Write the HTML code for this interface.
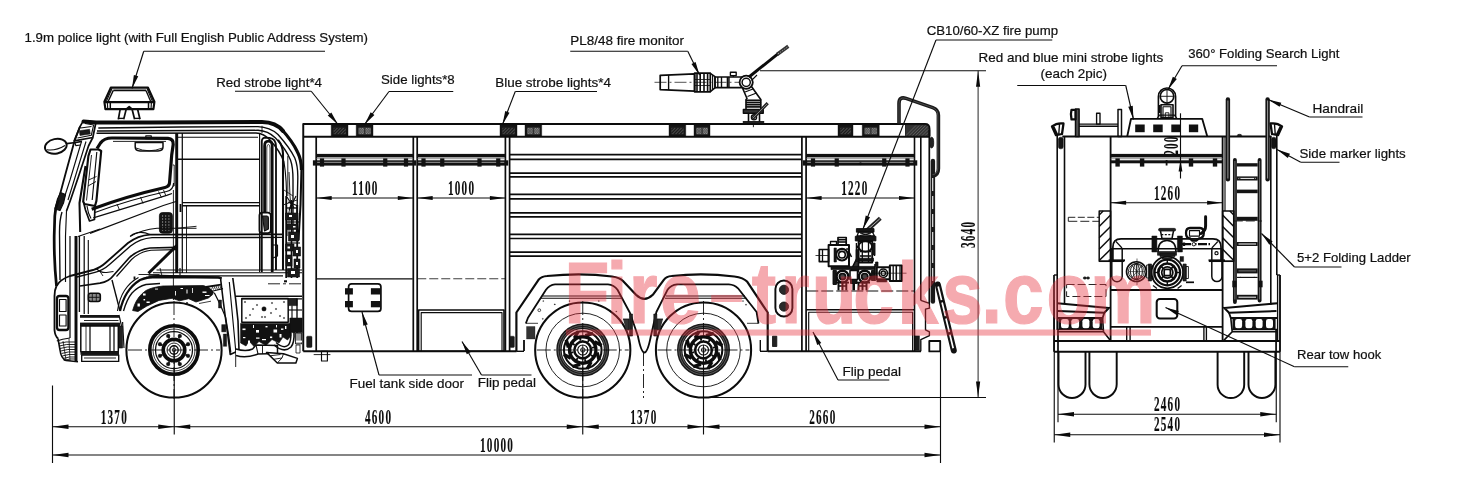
<!DOCTYPE html>
<html lang="en">
<head>
<meta charset="utf-8">
<title>Fire truck drawing</title>
<style>
html,body{margin:0;padding:0;background:#fff;}
body{width:1457px;height:485px;overflow:hidden;}
svg{display:block;}
svg *{vector-effect:none;}
.g{stroke:#0c0c0c;fill:none;stroke-linecap:butt;stroke-linejoin:round;}
.lb{font-family:"Liberation Sans",sans-serif;fill:#111;stroke:#111;stroke-width:.22px;}
.dm{font-family:"Liberation Serif",serif;font-weight:bold;fill:#0c0c0c;stroke:#0c0c0c;stroke-width:.15px;}
.wm{font-family:"Liberation Sans",sans-serif;font-weight:bold;fill:#e8323f;stroke:#e8323f;stroke-width:1.2px;stroke-linejoin:miter;}
</style>
</head>
<body>
<svg width="1457" height="485" viewBox="0 0 1457 485">
<rect x="0" y="0" width="1457" height="485" fill="#fff" stroke="none"/>
<g class="g" style="filter:grayscale(1)">
<path d="M83.5,121.4 L96,122.6 L150,122.4 L262,122 Q276,122.2 283,131" stroke-width="4.0" fill="none" stroke-linecap="round"/>
<path d="M281,128.5 Q293,142 297.5,152 Q301.5,160 301.5,170" stroke-width="3.19" fill="none" />
<path d="M301.5,168 L300.5,205 L298.5,240" stroke-width="2.05" fill="none" />
<path d="M98.3,128 L180,127 L258,126.6 Q270,127 278,134.5 Q290,148 294.8,158 Q298,166 297.8,178 L296.5,236" stroke-width="1.37" fill="none" />
<path d="M97,131 L258,130.3 Q268,130.8 275.5,138 Q286,149 290.5,160 Q293,167 293,180 L293,236" stroke-width="1.37" fill="none" />
<path d="M96.5,133.2 L256,133 Q264,133.4 270,140 Q280,151 284,162" stroke-width="1.48" fill="none" />
<path d="M262,125.8 L262,133" stroke-width="0.9" fill="none" />
<polygon points="83.3,120.8 95.8,123 92.8,137.5 74.2,140.8 80,126.7" stroke-width="1.71" fill="none" />
<polyline points="85,123.5 93.6,125 91.3,135.3 77.5,138" stroke-width="1.14" fill="none" />
<rect x="79.6" y="130" width="10.4" height="4.8" rx="0" stroke-width="0.5" fill="#1a1a1a" transform="rotate(-8 84.8 132.4)"/>
<line x1="80.5" y1="128" x2="91.5" y2="126.5" stroke-width="1.14" />
<ellipse cx="55.8" cy="146.3" rx="11" ry="7.3" stroke-width="1.94" fill="none" transform="rotate(-12 55.8 146.3)"/>
<path d="M47,149.8 Q56,151 65,145.5" stroke-width="1.14" fill="none" />
<polyline points="66.5,143.6 75.8,142.5 82,141.3" stroke-width="1.71" fill="none" />
<polyline points="75,142.6 75.8,145.6 80.5,145" stroke-width="1.14" fill="none" />
<polyline points="80,126.7 74.5,141 66,172 58.5,200" stroke-width="1.82" fill="none" />
<polyline points="92.8,137.5 88.5,146 78,178 70.5,200 66.5,211" stroke-width="1.71" fill="none" />
<polyline points="86,141.5 73,184 68,200" stroke-width="1.14" fill="none" />
<polyline points="81.5,141.5 70,180 63.5,200" stroke-width="1.14" fill="none" />
<polygon points="60.5,192.5 65.5,194.5 63.5,203 60,210.5 55,209 57.5,199" stroke-width="1.14" fill="#1a1a1a" />
<path d="M58.5,200 Q55,208 54.8,216 L54.2,236 Q54,262 56.5,286" stroke-width="2.74" fill="none" />
<path d="M62,212 Q59.5,220 59.5,232 L60,280" stroke-width="1.37" fill="none" />
<path d="M66.5,211 L65.5,236 L65.5,282" stroke-width="1.14" fill="none" />
<path d="M91.7,209.2 Q127.5,196 165,187.5 Q169.5,186.5 169.6,182 L171.7,155 L173.2,144.5 Q173.6,138.8 168,138.4 L112,138 Q104,138 100.5,143 L97,148.5" stroke-width="3.19" fill="none" />
<path d="M95,212.5 Q130,199.5 166.5,191.5 Q173.5,190 173.6,183" stroke-width="1.25" fill="none" />
<polygon points="98.6,149.5 101.2,151 96.4,201 95,206 84.4,204 83.2,201.5 88.4,156 90.5,149.5" stroke-width="2.17" fill="none" />
<polyline points="85.5,166 79.5,203 80.2,232" stroke-width="2.05" fill="none" />
<polyline points="96.8,152 92.2,200" stroke-width="1.14" fill="none" />
<polyline points="91.5,155 86.5,200.5" stroke-width="0.9" fill="none" />
<polyline points="84,204 85.5,210 89.5,221 94.5,219.5 95,206" stroke-width="1.71" fill="none" />
<polyline points="87,206 88.5,213 91,218.5" stroke-width="1.14" fill="none" />
<polyline points="88,186 96,181.5" stroke-width="0.9" fill="none" />
<polyline points="88.5,180 96.5,176.5" stroke-width="0.9" fill="none" />
<path d="M135.2,142.6 L163,142.6 L163,147 Q163,150.8 158,151 L140,151 Q135.2,150.8 135.2,147 Z" stroke-width="1.48" fill="none" />
<path d="M136,148 Q149,153.5 162.5,148" stroke-width="0.9" fill="none" />
<rect x="145.8" y="135.9" width="5.5" height="2.8" rx="0" stroke-width="1.14" fill="none" />
<line x1="113" y1="141.4" x2="166" y2="141.4" stroke-width="0.9" />
<polyline points="93.3,217.8 166.7,195.4 172,193.5" stroke-width="1.25" fill="none" />
<polyline points="90,233.3 163.3,205.5 176,201.5" stroke-width="1.25" fill="none" />
<polyline points="78,236.5 100,229" stroke-width="1.14" fill="none" />
<polyline points="117,204 119.5,210" stroke-width="0.9" fill="none" />
<polyline points="140.5,197 143,203.5" stroke-width="0.9" fill="none" />
<polyline points="158.5,191.5 161.5,197.5" stroke-width="0.9" fill="none" />
<polyline points="163.5,190 166,196" stroke-width="0.9" fill="none" />
<polyline points="172.8,165 174.2,165 174.2,186 172.6,186" stroke-width="0.9" fill="none" />
<line x1="176.7" y1="133" x2="176.7" y2="273" stroke-width="2.96" />
<line x1="182.3" y1="133" x2="182.3" y2="273" stroke-width="1.25" />
<line x1="186.5" y1="206" x2="186.5" y2="273" stroke-width="0.9" />
<line x1="173.4" y1="190" x2="173.4" y2="300" stroke-width="0.9" />
<line x1="176.7" y1="159.2" x2="260" y2="159.2" stroke-width="1.37" />
<line x1="182.3" y1="202.6" x2="260" y2="202.6" stroke-width="1.37" />
<line x1="182.3" y1="205.8" x2="260" y2="205.8" stroke-width="1.37" />
<line x1="176.7" y1="137.3" x2="258" y2="137.3" stroke-width="1.14" />
<line x1="259.6" y1="133" x2="259.6" y2="272" stroke-width="1.14" />
<path d="M261.8,272 L261.8,141.5 Q261.8,137.6 265.5,137.6 L269.5,137.8 Q276,138.6 276,146.5 L276,270" stroke-width="1.82" fill="none" />
<path d="M264.6,212 L264.6,146 Q264.6,141.2 268.4,141.2 Q272.2,141.2 272.2,146 L272.2,272" stroke-width="2.74" fill="none" />
<path d="M266.8,212 L266.8,148 Q266.8,144.5 268.4,144.5 Q270,144.5 270,148 L270,212" stroke-width="0.8" fill="none" />
<path d="M278,140 Q283,146 283,154 L283,270" stroke-width="2.05" fill="none" />
<line x1="287.8" y1="156" x2="287.8" y2="196" stroke-width="0.9" />
<path d="M284,162 Q287,180 286.5,205 L287,236" stroke-width="1.14" fill="none" />
<path d="M289,172 L290,196 Q292,205 289,212 L289,232" stroke-width="0.9" fill="none" />
<line x1="283" y1="205" x2="297" y2="200" stroke-width="0.9" />
<line x1="284" y1="190" x2="293" y2="196" stroke-width="0.8" />
<rect x="159.4" y="212.6" width="13" height="20.6" rx="3" stroke-width="0.8" fill="#151515" />
<line x1="162.6" y1="215" x2="162.6" y2="231" stroke-width="0.7" stroke="#999" stroke-dasharray="2 1"/>
<line x1="165.7" y1="215" x2="165.7" y2="231" stroke-width="0.7" stroke="#999" stroke-dasharray="2 1"/>
<line x1="168.9" y1="215" x2="168.9" y2="231" stroke-width="0.7" stroke="#999" stroke-dasharray="2 1"/>
<rect x="259.4" y="212.6" width="11.4" height="20.6" rx="3" stroke-width="1.71" fill="none" />
<path d="M262.5,216 L267,216 Q268.4,216 268.4,218 L268.4,229 L264.5,231 Z" stroke-width="1.14" fill="#333" />
<line x1="180.5" y1="204" x2="180.5" y2="212" stroke-width="1.82" />
<path d="M283,234.4 L150,234.6 Q138,235.5 128,243 L106,262.5 Q100,268 93,270 L70,276 Q60,279.5 56.5,286" stroke-width="1.82" fill="none" />
<path d="M283,237.4 L152,237.6 Q140,238.5 130.5,246 L109.5,264.5 Q103,270.3 95,272.3 L75,277.5" stroke-width="1.37" fill="none" />
<path d="M150,234.6 Q139,229.5 130.5,236" stroke-width="1.14" fill="none" />
<path d="M196.5,228.3 L157,228.3 Q142,229.5 130,236.5" stroke-width="1.14" fill="none" />
<line x1="176" y1="228.3" x2="196.5" y2="226.3" stroke-width="0.9" />
<path d="M176,247.4 L150,248 Q138,249.5 129,258 L113,276 Q109,281.5 100,283.2 L80,286" stroke-width="1.71" fill="none" />
<path d="M176,249.6 L151,250.2 Q140,251.5 131.5,259.5 L116.5,276.5" stroke-width="1.14" fill="none" />
<path d="M96,268.5 Q101,273 106.5,272.5 L113.5,271.5" stroke-width="1.14" fill="none" />
<line x1="100" y1="271.5" x2="103" y2="276" stroke-width="0.9" />
<line x1="176.7" y1="245.6" x2="148.5" y2="273.3" stroke-width="2.96" />
<line x1="112" y1="280" x2="120" y2="311" stroke-width="1.37" />
<line x1="156.5" y1="270" x2="302" y2="270" stroke-width="1.08" />
<line x1="153" y1="272.8" x2="302" y2="272.8" stroke-width="1.08" />
<line x1="148.5" y1="275.8" x2="283" y2="275.8" stroke-width="1.25" />
<line x1="146" y1="277.6" x2="220" y2="277.6" stroke-width="1.82" />
<line x1="180" y1="268" x2="180" y2="275" stroke-width="1.14" />
<line x1="160" y1="268" x2="162" y2="276" stroke-width="0.9" />
<line x1="134.5" y1="276.5" x2="134.5" y2="279.5" stroke-width="1.82" />
<line x1="138.5" y1="274.5" x2="159.5" y2="274.5" stroke-width="0.9" />
<line x1="272.7" y1="236" x2="272.7" y2="270" stroke-width="1.25" />
<line x1="275.8" y1="236" x2="275.8" y2="270" stroke-width="1.25" />
<line x1="260" y1="236" x2="260" y2="270" stroke-width="0.9" />
<polyline points="273,245 277.5,245 277.5,256 273,258" stroke-width="1.14" fill="none" />
<line x1="286.2" y1="196" x2="286.2" y2="278" stroke-width="1.82" />
<line x1="291.5" y1="200" x2="291.5" y2="278" stroke-width="1.6" />
<line x1="297.2" y1="205" x2="297.2" y2="278" stroke-width="1.82" />
<rect x="285.5" y="213" width="12.5" height="7" rx="0" stroke-width="0.6" fill="#1a1a1a" />
<rect x="287" y="224" width="10.5" height="5.5" rx="0" stroke-width="0.6" fill="#1a1a1a" />
<rect x="288.5" y="232" width="10.5" height="9" rx="0" stroke-width="0.6" fill="#1a1a1a" />
<rect x="285.5" y="244" width="8.5" height="7" rx="0" stroke-width="0.6" fill="#1a1a1a" />
<rect x="293" y="247" width="7.5" height="9" rx="0" stroke-width="0.6" fill="#1a1a1a" />
<rect x="286" y="255" width="6" height="11" rx="0" stroke-width="0.6" fill="#1a1a1a" />
<rect x="294" y="259" width="6" height="9" rx="0" stroke-width="0.6" fill="#1a1a1a" />
<rect x="287.5" y="268.5" width="12" height="8.5" rx="0" stroke-width="0.6" fill="#1a1a1a" />
<rect x="289" y="215" width="3" height="2" rx="0" stroke-width="0" fill="#fff" />
<rect x="293" y="226" width="2.5" height="1.5" rx="0" stroke-width="0" fill="#fff" />
<rect x="291" y="235" width="3" height="3" rx="0" stroke-width="0" fill="#fff" />
<rect x="287.5" y="246.5" width="2.5" height="2" rx="0" stroke-width="0" fill="#fff" />
<rect x="296" y="250" width="2" height="3" rx="0" stroke-width="0" fill="#fff" />
<rect x="288" y="259" width="2" height="3" rx="0" stroke-width="0" fill="#fff" />
<rect x="296" y="262" width="2" height="3" rx="0" stroke-width="0" fill="#fff" />
<rect x="291" y="271" width="4" height="3" rx="0" stroke-width="0" fill="#fff" />
<path d="M287,197 L294,208 M296,196 L289,210 M288,202 L298,206" stroke-width="1.14" fill="none" />
<line x1="286" y1="208" x2="298" y2="208" stroke-width="1.37" />
<line x1="286" y1="222" x2="299" y2="222" stroke-width="1.14" />
<line x1="286" y1="243" x2="300" y2="243" stroke-width="1.14" />
<line x1="76" y1="236" x2="76" y2="362" stroke-width="2.96" />
<line x1="79.4" y1="236" x2="79.4" y2="312" stroke-width="1.37" />
<line x1="70" y1="236" x2="70" y2="338" stroke-width="1.25" />
<line x1="84.2" y1="236" x2="84.2" y2="314" stroke-width="1.25" />
<line x1="88.3" y1="240" x2="88.3" y2="314" stroke-width="1.14" />
<path d="M56.5,286 Q54.5,290 54.5,296 L54.5,330 Q55,336 58,338.5" stroke-width="1.82" fill="none" />
<rect x="57" y="296" width="11.4" height="34" rx="2.5" stroke-width="2.28" fill="none" />
<rect x="59.5" y="299.5" width="6.6" height="12" rx="0" stroke-width="1.14" fill="#fff" />
<rect x="59.5" y="315" width="6.6" height="11" rx="0" stroke-width="1.14" fill="#fff" />
<path d="M58,338.5 L60,350 Q61,358.5 66,360.5 L78,361.8" stroke-width="1.6" fill="none" />
<path d="M56.8,341 Q62,339 70,338" stroke-width="1.14" fill="none" />
<path d="M58.5,343.5 Q65.5,341.2 75,342" stroke-width="0.9" fill="none" />
<path d="M59.25,346.0 Q66.25,343.7 75,344.5" stroke-width="0.9" fill="none" />
<path d="M60.0,348.5 Q67.0,346.2 75,347" stroke-width="0.9" fill="none" />
<path d="M60.75,351.0 Q67.75,348.7 75,349.5" stroke-width="0.9" fill="none" />
<path d="M61.5,353.5 Q68.5,351.2 75,352" stroke-width="0.9" fill="none" />
<path d="M62.25,356.0 Q69.25,353.7 75,354.5" stroke-width="0.9" fill="none" />
<path d="M63.0,358.5 Q70.0,356.2 75,357" stroke-width="0.9" fill="none" />
<path d="M63.75,360.5 Q70.75,358.2 75,359" stroke-width="0.9" fill="none" />
<line x1="63" y1="341" x2="66" y2="360" stroke-width="0.8" />
<line x1="69" y1="339" x2="70" y2="361" stroke-width="0.8" />
<rect x="88.4" y="293.2" width="11.9" height="8.3" rx="2.2" stroke-width="1.6" fill="#8a8a8a" />
<line x1="89" y1="297.3" x2="99.7" y2="297.3" stroke-width="0.9" />
<line x1="92.3" y1="293.5" x2="92.3" y2="301.2" stroke-width="0.8" />
<line x1="96.3" y1="293.5" x2="96.3" y2="301.2" stroke-width="0.8" />
<rect x="80" y="315" width="39" height="2.8" rx="0" stroke-width="0" fill="#151515" />
<rect x="80" y="322.6" width="40" height="3.4" rx="0" stroke-width="0" fill="#151515" />
<line x1="84" y1="320.5" x2="118.5" y2="320.5" stroke-width="0.9" />
<rect x="80.8" y="326" width="37.5" height="25.8" rx="0" stroke-width="1.48" fill="none" />
<line x1="90" y1="326" x2="90" y2="352" stroke-width="1.25" />
<line x1="110" y1="326" x2="110" y2="352" stroke-width="1.25" />
<line x1="114" y1="326" x2="114" y2="352" stroke-width="1.25" />
<line x1="86" y1="326" x2="86" y2="352" stroke-width="0.8" />
<rect x="80.5" y="351.4" width="38.5" height="3.4" rx="0" stroke-width="0" fill="#151515" />
<rect x="81.7" y="355" width="37" height="6.4" rx="0" stroke-width="1.37" fill="none" />
<line x1="84" y1="358" x2="116" y2="358" stroke-width="0.9" />
<rect x="119" y="326" width="3.6" height="22" rx="0" stroke-width="0.6" fill="#222" />
<line x1="119" y1="315" x2="121.5" y2="326" stroke-width="1.14" />
<line x1="122.6" y1="322" x2="124" y2="348" stroke-width="1.14" />
<path d="M120,311 Q122.5,300 127,293 Q132,285 140,280 Q148,276.8 160,276 L218.3,277.4 L221.7,278.4" stroke-width="2.28" fill="none" />
<path d="M123.5,311 Q127,299 132,293 Q138,286.5 146,284.5 L160,283.5" stroke-width="1.37" fill="none" />
<path d="M117.5,311 Q119.5,298 124.5,290.5 Q130,282 138.5,277.5" stroke-width="1.14" fill="none" />
<path d="M132.6,310.5 L134.5,305 Q138,296 146,290.5 Q152,287.2 163,286 L203.5,285.6 Q210,287 213.4,292 L212.6,294.6 L208.4,298 L196,302 L188.7,298.7 L179.6,300.8 L172.2,298.3 L159,300.4 L146.6,306.2 L138,311.5 Z" stroke-width="0.8" fill="#121212" />
<rect x="143" y="293.5" width="2.6" height="2" rx="0" stroke-width="0" fill="#fff" />
<rect x="146.5" y="301.5" width="3.2" height="1.5" rx="0" stroke-width="0" fill="#fff" />
<rect x="137.5" y="303.5" width="2.4" height="3" rx="0" stroke-width="0" fill="#fff" />
<rect x="155" y="288.6" width="3" height="0.9" rx="0" stroke-width="0" fill="#fff" />
<rect x="143.5" y="299" width="1.6" height="1.4" rx="0" stroke-width="0" fill="#fff" />
<rect x="175" y="291" width="0.9" height="4.5" rx="0" stroke-width="0" fill="#fff" />
<rect x="180.5" y="288" width="2.5" height="1" rx="0" stroke-width="0" fill="#fff" />
<rect x="186.5" y="289.5" width="1" height="4" rx="0" stroke-width="0" fill="#fff" />
<rect x="192" y="288" width="0.8" height="5" rx="0" stroke-width="0" fill="#fff" />
<rect x="202.5" y="291.5" width="4" height="1.4" rx="0" stroke-width="0" fill="#fff" />
<rect x="205" y="295" width="4.5" height="1" rx="0" stroke-width="0" fill="#fff" />
<polyline points="206,287 221,284.6" stroke-width="1.82" fill="none" />
<polyline points="212,291.2 223,288.6" stroke-width="1.14" fill="none" />
<line x1="211.5" y1="289.6" x2="213" y2="286" stroke-width="0.8" />
<line x1="213.5" y1="289.6" x2="215" y2="286" stroke-width="0.8" />
<line x1="215.5" y1="289.6" x2="217" y2="286" stroke-width="0.8" />
<line x1="217.5" y1="289.6" x2="219" y2="286" stroke-width="0.8" />
<line x1="219.5" y1="289.6" x2="221" y2="286" stroke-width="0.8" />
<line x1="199" y1="303.5" x2="211" y2="301.2" stroke-width="0.8" />
<line x1="187" y1="302" x2="187" y2="304.5" stroke-width="1.37" />
<path d="M220.5,278 Q223,300 226,322 Q228.5,340 230.2,354.5 L239,350.5" stroke-width="1.6" fill="none" />
<path d="M229.3,282 Q231.5,305 234,332 L235.9,352.5" stroke-width="1.14" fill="none" />
<path d="M232.8,278 Q236,300 238,321 L239,350.5" stroke-width="1.6" fill="none" />
<path d="M214.3,292.7 Q221,305 225.6,317.4 Q229,335 230.8,352.5" stroke-width="1.25" fill="none" />
<line x1="235.7" y1="352" x2="235.7" y2="367" stroke-width="0.9" />
<rect x="221.7" y="324.6" width="4.2" height="7.3" rx="0" stroke-width="0.4" fill="#1a1a1a" />
<rect x="223.3" y="334" width="3.4" height="12.3" rx="0" stroke-width="0.4" fill="#1a1a1a" />
<rect x="218.5" y="300" width="3" height="8" rx="0" stroke-width="0.4" fill="#1a1a1a" />
<line x1="236" y1="296.2" x2="302" y2="296.2" stroke-width="1.48" />
<line x1="241.8" y1="298.8" x2="302" y2="298.8" stroke-width="1.25" />
<line x1="268" y1="283.8" x2="302" y2="283.8" stroke-width="0.9" stroke-dasharray="12 3 3 3"/>
<line x1="284" y1="281.3" x2="287" y2="281.3" stroke-width="2.05" />
<rect x="241.8" y="298.6" width="46.4" height="23.6" rx="0" stroke-width="1.48" fill="none" />
<circle cx="264" cy="308.9" r="2.2" stroke-width="0.4" fill="#111" />
<circle cx="245" cy="302" r="0.75" stroke-width="0.2" fill="#111" />
<circle cx="250" cy="315" r="0.75" stroke-width="0.2" fill="#111" />
<circle cx="246" cy="318" r="0.75" stroke-width="0.2" fill="#111" />
<circle cx="257" cy="305" r="0.75" stroke-width="0.2" fill="#111" />
<circle cx="262" cy="317" r="0.75" stroke-width="0.2" fill="#111" />
<circle cx="265" cy="317" r="0.75" stroke-width="0.2" fill="#111" />
<circle cx="272" cy="303" r="0.75" stroke-width="0.2" fill="#111" />
<circle cx="276" cy="309" r="0.75" stroke-width="0.2" fill="#111" />
<circle cx="280" cy="316" r="0.75" stroke-width="0.2" fill="#111" />
<circle cx="284" cy="302" r="0.75" stroke-width="0.2" fill="#111" />
<circle cx="284" cy="318" r="0.75" stroke-width="0.2" fill="#111" />
<circle cx="271" cy="313" r="0.75" stroke-width="0.2" fill="#111" />
<circle cx="253" cy="309" r="0.75" stroke-width="0.2" fill="#111" />
<rect x="288.2" y="298.6" width="9" height="7" rx="0" stroke-width="0.5" fill="#222" />
<line x1="288.2" y1="310" x2="302" y2="310" stroke-width="1.14" />
<line x1="292" y1="305.6" x2="292" y2="322" stroke-width="1.14" />
<line x1="297" y1="298.6" x2="297" y2="335" stroke-width="1.37" />
<path d="M240.6,323.4 L291,323.4 L291,336 L287.5,340 L283,337 L279,343 L272,339.5 L266,345.5 L259,341.5 L254,346.5 L249,341 L246,346 L240.6,343 Z" stroke-width="0.6" fill="#121212" />
<rect x="242.5" y="328.5" width="3" height="1.6" rx="0" stroke-width="0" fill="#fff" />
<rect x="253" y="325" width="1" height="3" rx="0" stroke-width="0" fill="#fff" />
<rect x="256" y="330" width="3" height="2.6" rx="0" stroke-width="0" fill="#fff" />
<rect x="265.5" y="326" width="2" height="1.4" rx="0" stroke-width="0" fill="#fff" />
<rect x="273.5" y="329.5" width="3.6" height="3" rx="0" stroke-width="0" fill="#fff" />
<rect x="276" y="325" width="1" height="2.4" rx="0" stroke-width="0" fill="#fff" />
<rect x="281" y="328.5" width="2.4" height="1.4" rx="0" stroke-width="0" fill="#fff" />
<rect x="285" y="326" width="1.4" height="3" rx="0" stroke-width="0" fill="#fff" />
<rect x="243" y="337" width="2.4" height="1.2" rx="0" stroke-width="0" fill="#fff" />
<rect x="256" y="337.5" width="3.5" height="1.2" rx="0" stroke-width="0" fill="#fff" />
<rect x="262" y="339" width="4" height="1.2" rx="0" stroke-width="0" fill="#fff" />
<rect x="270" y="336.5" width="2.2" height="1.6" rx="0" stroke-width="0" fill="#fff" />
<rect x="279.5" y="334" width="2" height="3.5" rx="0" stroke-width="0" fill="#fff" />
<rect x="248" y="340.5" width="2" height="3" rx="0" stroke-width="0" fill="#fff" />
<rect x="289.8" y="318" width="12.4" height="14.6" rx="0" stroke-width="0.5" fill="#121212" />
<rect x="295.5" y="333" width="6" height="11" rx="0" stroke-width="0.8" fill="#999" />
<line x1="296" y1="341.5" x2="302" y2="341.5" stroke-width="1.82" stroke="#fff"/>
<rect x="296" y="345" width="4" height="8" rx="0" stroke-width="0.8" fill="none" />
<path d="M236,349 Q246,352 252.6,349 L256,345 L277.5,345.5 L277.5,353.5 L258,354 Q246,358.5 236,355.5" stroke-width="1.48" fill="#fff" />
<line x1="256" y1="345" x2="258" y2="354" stroke-width="1.14" />
<line x1="262.5" y1="345.2" x2="262.5" y2="354" stroke-width="0.9" />
<path d="M274,345 Q284,353.5 291,347 Q294.6,342.5 294,332" stroke-width="1.6" fill="none" />
<path d="M276,342.5 Q284,349.5 288.6,344.8 Q291.2,341 290.8,333" stroke-width="1.48" fill="none" />
<polygon points="266.5,352.4 277.3,363 295.9,363 297.4,358.4 283.5,353.7" stroke-width="1.48" fill="#fff" />
<polyline points="270,355.8 280.5,354.5" stroke-width="0.9" fill="none" />
<polyline points="273.5,359.3 282,358" stroke-width="0.9" fill="none" />
<polyline points="277.3,363 282,358 283.5,353.7" stroke-width="0.9" fill="none" />
<circle cx="174" cy="350" r="47.6" stroke-width="2.05" fill="#fff" />
<circle cx="174" cy="350" r="24.2" stroke-width="3.6" fill="none" />
<circle cx="174" cy="350" r="21" stroke-width="0.8" fill="none" />
<circle cx="174" cy="350" r="18.5" stroke-width="1.25" fill="none" />
<circle cx="174" cy="350" r="10.8" stroke-width="3.6" fill="none" />
<circle cx="174" cy="350" r="7" stroke-width="0.9" fill="none" />
<circle cx="174" cy="350" r="4.2" stroke-width="1.37" fill="none" />
<circle cx="174" cy="350" r="1.8" stroke-width="0.8" fill="none" />
<circle cx="188.04" cy="355.82" r="1.9" stroke-width="0.3" fill="#111" />
<line x1="185.55" y1="354.78" x2="186.93" y2="355.36" stroke-width="1.82" />
<circle cx="179.82" cy="364.04" r="1.9" stroke-width="0.3" fill="#111" />
<line x1="178.78" y1="361.55" x2="179.36" y2="362.93" stroke-width="1.82" />
<circle cx="168.18" cy="364.04" r="1.9" stroke-width="0.3" fill="#111" />
<line x1="169.22" y1="361.55" x2="168.64" y2="362.93" stroke-width="1.82" />
<circle cx="159.96" cy="355.82" r="1.9" stroke-width="0.3" fill="#111" />
<line x1="162.45" y1="354.78" x2="161.07" y2="355.36" stroke-width="1.82" />
<circle cx="159.96" cy="344.18" r="1.9" stroke-width="0.3" fill="#111" />
<line x1="162.45" y1="345.22" x2="161.07" y2="344.64" stroke-width="1.82" />
<circle cx="168.18" cy="335.96" r="1.9" stroke-width="0.3" fill="#111" />
<line x1="169.22" y1="338.45" x2="168.64" y2="337.07" stroke-width="1.82" />
<circle cx="179.82" cy="335.96" r="1.9" stroke-width="0.3" fill="#111" />
<line x1="178.78" y1="338.45" x2="179.36" y2="337.07" stroke-width="1.82" />
<circle cx="188.04" cy="344.18" r="1.9" stroke-width="0.3" fill="#111" />
<line x1="185.55" y1="345.22" x2="186.93" y2="344.64" stroke-width="1.82" />
<line x1="128" y1="350" x2="220" y2="350" stroke-width="0.9" stroke-dasharray="14 3 2 3"/>
<line x1="174" y1="301" x2="174" y2="399" stroke-width="0.9" stroke-dasharray="14 3 2 3"/>
<circle cx="582.75" cy="350" r="47.6" stroke-width="2.05" fill="none" />
<circle cx="582.75" cy="350" r="36.8" stroke-width="0.9" fill="none" />
<circle cx="582.75" cy="350" r="23.8" stroke-width="5.4" fill="none" stroke="#1a1a1a"/>
<circle cx="582.75" cy="350" r="24.6" stroke-width="0.5" fill="none" stroke="#999"/>
<circle cx="582.75" cy="350" r="22.6" stroke-width="0.5" fill="none" stroke="#999"/>
<circle cx="582.75" cy="350" r="18.8" stroke-width="2.05" fill="none" />
<circle cx="582.75" cy="350" r="13.2" stroke-width="3.42" fill="none" />
<circle cx="582.75" cy="350" r="8.4" stroke-width="2.51" fill="none" />
<circle cx="582.75" cy="350" r="5" stroke-width="1.14" fill="none" />
<circle cx="582.75" cy="350" r="2.2" stroke-width="0.9" fill="none" />
<line x1="597.03" y1="352.52" x2="599.29" y2="360.33" stroke-width="3.42" />
<line x1="590.81" y1="355.03" x2="593.35" y2="356.62" stroke-width="1.82" />
<line x1="591.07" y1="361.88" x2="587.14" y2="369" stroke-width="3.42" />
<line x1="584.89" y1="359.26" x2="585.56" y2="362.18" stroke-width="1.82" />
<line x1="580.23" y1="364.28" x2="572.42" y2="366.54" stroke-width="3.42" />
<line x1="577.72" y1="358.06" x2="576.13" y2="360.6" stroke-width="1.82" />
<line x1="570.87" y1="358.32" x2="563.75" y2="354.39" stroke-width="3.42" />
<line x1="573.49" y1="352.14" x2="570.57" y2="352.81" stroke-width="1.82" />
<line x1="568.47" y1="347.48" x2="566.21" y2="339.67" stroke-width="3.42" />
<line x1="574.69" y1="344.97" x2="572.15" y2="343.38" stroke-width="1.82" />
<line x1="574.43" y1="338.12" x2="578.36" y2="331" stroke-width="3.42" />
<line x1="580.61" y1="340.74" x2="579.94" y2="337.82" stroke-width="1.82" />
<line x1="585.27" y1="335.72" x2="593.08" y2="333.46" stroke-width="3.42" />
<line x1="587.78" y1="341.94" x2="589.37" y2="339.4" stroke-width="1.82" />
<line x1="594.63" y1="341.68" x2="601.75" y2="345.61" stroke-width="3.42" />
<line x1="592.01" y1="347.86" x2="594.93" y2="347.19" stroke-width="1.82" />
<line x1="536.75" y1="350" x2="628.75" y2="350" stroke-width="0.9" stroke-dasharray="14 3 2 3"/>
<line x1="582.75" y1="301" x2="582.75" y2="399" stroke-width="0.9" stroke-dasharray="14 3 2 3"/>
<circle cx="703.5" cy="350" r="47.6" stroke-width="2.05" fill="none" />
<circle cx="703.5" cy="350" r="36.8" stroke-width="0.9" fill="none" />
<circle cx="703.5" cy="350" r="23.8" stroke-width="5.4" fill="none" stroke="#1a1a1a"/>
<circle cx="703.5" cy="350" r="24.6" stroke-width="0.5" fill="none" stroke="#999"/>
<circle cx="703.5" cy="350" r="22.6" stroke-width="0.5" fill="none" stroke="#999"/>
<circle cx="703.5" cy="350" r="18.8" stroke-width="2.05" fill="none" />
<circle cx="703.5" cy="350" r="13.2" stroke-width="3.42" fill="none" />
<circle cx="703.5" cy="350" r="8.4" stroke-width="2.51" fill="none" />
<circle cx="703.5" cy="350" r="5" stroke-width="1.14" fill="none" />
<circle cx="703.5" cy="350" r="2.2" stroke-width="0.9" fill="none" />
<line x1="717.78" y1="352.52" x2="720.04" y2="360.33" stroke-width="3.42" />
<line x1="711.56" y1="355.03" x2="714.1" y2="356.62" stroke-width="1.82" />
<line x1="711.82" y1="361.88" x2="707.89" y2="369" stroke-width="3.42" />
<line x1="705.64" y1="359.26" x2="706.31" y2="362.18" stroke-width="1.82" />
<line x1="700.98" y1="364.28" x2="693.17" y2="366.54" stroke-width="3.42" />
<line x1="698.47" y1="358.06" x2="696.88" y2="360.6" stroke-width="1.82" />
<line x1="691.62" y1="358.32" x2="684.5" y2="354.39" stroke-width="3.42" />
<line x1="694.24" y1="352.14" x2="691.32" y2="352.81" stroke-width="1.82" />
<line x1="689.22" y1="347.48" x2="686.96" y2="339.67" stroke-width="3.42" />
<line x1="695.44" y1="344.97" x2="692.9" y2="343.38" stroke-width="1.82" />
<line x1="695.18" y1="338.12" x2="699.11" y2="331" stroke-width="3.42" />
<line x1="701.36" y1="340.74" x2="700.69" y2="337.82" stroke-width="1.82" />
<line x1="706.02" y1="335.72" x2="713.83" y2="333.46" stroke-width="3.42" />
<line x1="708.53" y1="341.94" x2="710.12" y2="339.4" stroke-width="1.82" />
<line x1="715.38" y1="341.68" x2="722.5" y2="345.61" stroke-width="3.42" />
<line x1="712.76" y1="347.86" x2="715.68" y2="347.19" stroke-width="1.82" />
<line x1="657.5" y1="350" x2="749.5" y2="350" stroke-width="0.9" stroke-dasharray="14 3 2 3"/>
<line x1="703.5" y1="301" x2="703.5" y2="399" stroke-width="0.9" stroke-dasharray="14 3 2 3"/>
<line x1="643.5" y1="352" x2="643.5" y2="398" stroke-width="0.9" stroke-dasharray="14 3 2 3"/>
<path d="M303.25,351.25 L303.25,124 L925,124 Q929.5,124 929.5,129 L929.5,136.5" stroke-width="1.94" fill="none" />
<line x1="303.25" y1="136.7" x2="929.5" y2="136.7" stroke-width="1.94" />
<line x1="303.25" y1="351.25" x2="516.5" y2="351.25" stroke-width="1.94" />
<line x1="767.7" y1="351.25" x2="921" y2="351.25" stroke-width="1.94" />
<line x1="316.2" y1="136.5" x2="316.2" y2="351.25" stroke-width="1.71" />
<line x1="413.3" y1="136.5" x2="413.3" y2="351.25" stroke-width="1.71" />
<line x1="417.2" y1="136.5" x2="417.2" y2="351.25" stroke-width="1.71" />
<line x1="505.4" y1="136.5" x2="505.4" y2="351.25" stroke-width="1.71" />
<line x1="509.6" y1="136.5" x2="509.6" y2="351.25" stroke-width="1.71" />
<line x1="801.9" y1="136.5" x2="801.9" y2="351.25" stroke-width="1.71" />
<line x1="806.1" y1="136.5" x2="806.1" y2="351.25" stroke-width="1.71" />
<line x1="914.5" y1="136.5" x2="914.5" y2="351" stroke-width="1.6" />
<line x1="920.8" y1="136.5" x2="920.8" y2="300.4" stroke-width="1.6" />
<rect x="331.2" y="124.8" width="16.8" height="11.2" rx="0" stroke-width="0.4" fill="#151515" />
<rect x="333.6" y="127.8" width="12.2" height="6.4" rx="0" stroke-width="0" fill="#4a4a4a" />
<line x1="333.6" y1="130.2" x2="336" y2="127.8" stroke-width="1.25" stroke="#1c1c1c"/>
<line x1="333.6" y1="133.4" x2="339.2" y2="127.8" stroke-width="1.25" stroke="#1c1c1c"/>
<line x1="336" y1="134.2" x2="342.4" y2="127.8" stroke-width="1.25" stroke="#1c1c1c"/>
<line x1="339.2" y1="134.2" x2="345.6" y2="127.8" stroke-width="1.25" stroke="#1c1c1c"/>
<line x1="342.4" y1="134.2" x2="345.8" y2="130.8" stroke-width="1.25" stroke="#1c1c1c"/>
<line x1="345.6" y1="134.2" x2="345.8" y2="134" stroke-width="1.25" stroke="#1c1c1c"/>
<rect x="356.2" y="124.8" width="16.8" height="11.2" rx="0" stroke-width="0.4" fill="#151515" />
<rect x="358.6" y="127.8" width="12.2" height="6.4" rx="0" stroke-width="0" fill="#9a9a9a" />
<line x1="364.7" y1="127.8" x2="364.7" y2="134.2" stroke-width="1.37" stroke="#333"/>
<line x1="358.6" y1="129.2" x2="360" y2="127.8" stroke-width="0.6" stroke="#333"/>
<line x1="358.6" y1="132.8" x2="360" y2="134.2" stroke-width="0.6" stroke="#333"/>
<line x1="358.6" y1="131.4" x2="362.2" y2="127.8" stroke-width="0.6" stroke="#333"/>
<line x1="358.6" y1="130.6" x2="362.2" y2="134.2" stroke-width="0.6" stroke="#333"/>
<line x1="358.6" y1="133.6" x2="364.4" y2="127.8" stroke-width="0.6" stroke="#333"/>
<line x1="358.6" y1="128.4" x2="364.4" y2="134.2" stroke-width="0.6" stroke="#333"/>
<line x1="360.2" y1="134.2" x2="366.6" y2="127.8" stroke-width="0.6" stroke="#333"/>
<line x1="360.2" y1="127.8" x2="366.6" y2="134.2" stroke-width="0.6" stroke="#333"/>
<line x1="362.4" y1="134.2" x2="368.8" y2="127.8" stroke-width="0.6" stroke="#333"/>
<line x1="362.4" y1="127.8" x2="368.8" y2="134.2" stroke-width="0.6" stroke="#333"/>
<line x1="364.6" y1="134.2" x2="370.8" y2="128" stroke-width="0.6" stroke="#333"/>
<line x1="364.6" y1="127.8" x2="370.8" y2="134" stroke-width="0.6" stroke="#333"/>
<line x1="366.8" y1="134.2" x2="370.8" y2="130.2" stroke-width="0.6" stroke="#333"/>
<line x1="366.8" y1="127.8" x2="370.8" y2="131.8" stroke-width="0.6" stroke="#333"/>
<line x1="369" y1="134.2" x2="370.8" y2="132.4" stroke-width="0.6" stroke="#333"/>
<line x1="369" y1="127.8" x2="370.8" y2="129.6" stroke-width="0.6" stroke="#333"/>
<rect x="500" y="124.8" width="17" height="11.2" rx="0" stroke-width="0.4" fill="#151515" />
<rect x="502.4" y="127.8" width="12.4" height="6.4" rx="0" stroke-width="0" fill="#4a4a4a" />
<line x1="502.4" y1="130.2" x2="504.8" y2="127.8" stroke-width="1.25" stroke="#1c1c1c"/>
<line x1="502.4" y1="133.4" x2="508" y2="127.8" stroke-width="1.25" stroke="#1c1c1c"/>
<line x1="504.8" y1="134.2" x2="511.2" y2="127.8" stroke-width="1.25" stroke="#1c1c1c"/>
<line x1="508" y1="134.2" x2="514.4" y2="127.8" stroke-width="1.25" stroke="#1c1c1c"/>
<line x1="511.2" y1="134.2" x2="514.8" y2="130.6" stroke-width="1.25" stroke="#1c1c1c"/>
<line x1="514.4" y1="134.2" x2="514.8" y2="133.8" stroke-width="1.25" stroke="#1c1c1c"/>
<rect x="525" y="124.8" width="16.7" height="11.2" rx="0" stroke-width="0.4" fill="#151515" />
<rect x="527.4" y="127.8" width="12.1" height="6.4" rx="0" stroke-width="0" fill="#9a9a9a" />
<line x1="533.45" y1="127.8" x2="533.45" y2="134.2" stroke-width="1.37" stroke="#333"/>
<line x1="527.4" y1="129.2" x2="528.8" y2="127.8" stroke-width="0.6" stroke="#333"/>
<line x1="527.4" y1="132.8" x2="528.8" y2="134.2" stroke-width="0.6" stroke="#333"/>
<line x1="527.4" y1="131.4" x2="531" y2="127.8" stroke-width="0.6" stroke="#333"/>
<line x1="527.4" y1="130.6" x2="531" y2="134.2" stroke-width="0.6" stroke="#333"/>
<line x1="527.4" y1="133.6" x2="533.2" y2="127.8" stroke-width="0.6" stroke="#333"/>
<line x1="527.4" y1="128.4" x2="533.2" y2="134.2" stroke-width="0.6" stroke="#333"/>
<line x1="529" y1="134.2" x2="535.4" y2="127.8" stroke-width="0.6" stroke="#333"/>
<line x1="529" y1="127.8" x2="535.4" y2="134.2" stroke-width="0.6" stroke="#333"/>
<line x1="531.2" y1="134.2" x2="537.6" y2="127.8" stroke-width="0.6" stroke="#333"/>
<line x1="531.2" y1="127.8" x2="537.6" y2="134.2" stroke-width="0.6" stroke="#333"/>
<line x1="533.4" y1="134.2" x2="539.5" y2="128.1" stroke-width="0.6" stroke="#333"/>
<line x1="533.4" y1="127.8" x2="539.5" y2="133.9" stroke-width="0.6" stroke="#333"/>
<line x1="535.6" y1="134.2" x2="539.5" y2="130.3" stroke-width="0.6" stroke="#333"/>
<line x1="535.6" y1="127.8" x2="539.5" y2="131.7" stroke-width="0.6" stroke="#333"/>
<line x1="537.8" y1="134.2" x2="539.5" y2="132.5" stroke-width="0.6" stroke="#333"/>
<line x1="537.8" y1="127.8" x2="539.5" y2="129.5" stroke-width="0.6" stroke="#333"/>
<rect x="669" y="124.8" width="16.75" height="11.2" rx="0" stroke-width="0.4" fill="#151515" />
<rect x="671.4" y="127.8" width="12.15" height="6.4" rx="0" stroke-width="0" fill="#4a4a4a" />
<line x1="671.4" y1="130.2" x2="673.8" y2="127.8" stroke-width="1.25" stroke="#1c1c1c"/>
<line x1="671.4" y1="133.4" x2="677" y2="127.8" stroke-width="1.25" stroke="#1c1c1c"/>
<line x1="673.8" y1="134.2" x2="680.2" y2="127.8" stroke-width="1.25" stroke="#1c1c1c"/>
<line x1="677" y1="134.2" x2="683.4" y2="127.8" stroke-width="1.25" stroke="#1c1c1c"/>
<line x1="680.2" y1="134.2" x2="683.55" y2="130.85" stroke-width="1.25" stroke="#1c1c1c"/>
<line x1="683.4" y1="134.2" x2="683.55" y2="134.05" stroke-width="1.25" stroke="#1c1c1c"/>
<rect x="694" y="124.8" width="16" height="11.2" rx="0" stroke-width="0.4" fill="#151515" />
<rect x="696.4" y="127.8" width="11.4" height="6.4" rx="0" stroke-width="0" fill="#9a9a9a" />
<line x1="702.1" y1="127.8" x2="702.1" y2="134.2" stroke-width="1.37" stroke="#333"/>
<line x1="696.4" y1="129.2" x2="697.8" y2="127.8" stroke-width="0.6" stroke="#333"/>
<line x1="696.4" y1="132.8" x2="697.8" y2="134.2" stroke-width="0.6" stroke="#333"/>
<line x1="696.4" y1="131.4" x2="700" y2="127.8" stroke-width="0.6" stroke="#333"/>
<line x1="696.4" y1="130.6" x2="700" y2="134.2" stroke-width="0.6" stroke="#333"/>
<line x1="696.4" y1="133.6" x2="702.2" y2="127.8" stroke-width="0.6" stroke="#333"/>
<line x1="696.4" y1="128.4" x2="702.2" y2="134.2" stroke-width="0.6" stroke="#333"/>
<line x1="698" y1="134.2" x2="704.4" y2="127.8" stroke-width="0.6" stroke="#333"/>
<line x1="698" y1="127.8" x2="704.4" y2="134.2" stroke-width="0.6" stroke="#333"/>
<line x1="700.2" y1="134.2" x2="706.6" y2="127.8" stroke-width="0.6" stroke="#333"/>
<line x1="700.2" y1="127.8" x2="706.6" y2="134.2" stroke-width="0.6" stroke="#333"/>
<line x1="702.4" y1="134.2" x2="707.8" y2="128.8" stroke-width="0.6" stroke="#333"/>
<line x1="702.4" y1="127.8" x2="707.8" y2="133.2" stroke-width="0.6" stroke="#333"/>
<line x1="704.6" y1="134.2" x2="707.8" y2="131" stroke-width="0.6" stroke="#333"/>
<line x1="704.6" y1="127.8" x2="707.8" y2="131" stroke-width="0.6" stroke="#333"/>
<line x1="706.8" y1="134.2" x2="707.8" y2="133.2" stroke-width="0.6" stroke="#333"/>
<line x1="706.8" y1="127.8" x2="707.8" y2="128.8" stroke-width="0.6" stroke="#333"/>
<rect x="838" y="124.8" width="15" height="11.2" rx="0" stroke-width="0.4" fill="#151515" />
<rect x="840.4" y="127.8" width="10.4" height="6.4" rx="0" stroke-width="0" fill="#4a4a4a" />
<line x1="840.4" y1="130.2" x2="842.8" y2="127.8" stroke-width="1.25" stroke="#1c1c1c"/>
<line x1="840.4" y1="133.4" x2="846" y2="127.8" stroke-width="1.25" stroke="#1c1c1c"/>
<line x1="842.8" y1="134.2" x2="849.2" y2="127.8" stroke-width="1.25" stroke="#1c1c1c"/>
<line x1="846" y1="134.2" x2="850.8" y2="129.4" stroke-width="1.25" stroke="#1c1c1c"/>
<line x1="849.2" y1="134.2" x2="850.8" y2="132.6" stroke-width="1.25" stroke="#1c1c1c"/>
<rect x="862.25" y="124.8" width="17" height="11.2" rx="0" stroke-width="0.4" fill="#151515" />
<rect x="864.65" y="127.8" width="12.4" height="6.4" rx="0" stroke-width="0" fill="#9a9a9a" />
<line x1="870.85" y1="127.8" x2="870.85" y2="134.2" stroke-width="1.37" stroke="#333"/>
<line x1="864.65" y1="129.2" x2="866.05" y2="127.8" stroke-width="0.6" stroke="#333"/>
<line x1="864.65" y1="132.8" x2="866.05" y2="134.2" stroke-width="0.6" stroke="#333"/>
<line x1="864.65" y1="131.4" x2="868.25" y2="127.8" stroke-width="0.6" stroke="#333"/>
<line x1="864.65" y1="130.6" x2="868.25" y2="134.2" stroke-width="0.6" stroke="#333"/>
<line x1="864.65" y1="133.6" x2="870.45" y2="127.8" stroke-width="0.6" stroke="#333"/>
<line x1="864.65" y1="128.4" x2="870.45" y2="134.2" stroke-width="0.6" stroke="#333"/>
<line x1="866.25" y1="134.2" x2="872.65" y2="127.8" stroke-width="0.6" stroke="#333"/>
<line x1="866.25" y1="127.8" x2="872.65" y2="134.2" stroke-width="0.6" stroke="#333"/>
<line x1="868.45" y1="134.2" x2="874.85" y2="127.8" stroke-width="0.6" stroke="#333"/>
<line x1="868.45" y1="127.8" x2="874.85" y2="134.2" stroke-width="0.6" stroke="#333"/>
<line x1="870.65" y1="134.2" x2="877.05" y2="127.8" stroke-width="0.6" stroke="#333"/>
<line x1="870.65" y1="127.8" x2="877.05" y2="134.2" stroke-width="0.6" stroke="#333"/>
<line x1="872.85" y1="134.2" x2="877.05" y2="130" stroke-width="0.6" stroke="#333"/>
<line x1="872.85" y1="127.8" x2="877.05" y2="132" stroke-width="0.6" stroke="#333"/>
<line x1="875.05" y1="134.2" x2="877.05" y2="132.2" stroke-width="0.6" stroke="#333"/>
<line x1="875.05" y1="127.8" x2="877.05" y2="129.8" stroke-width="0.6" stroke="#333"/>
<path d="M905.5,124.6 L924.5,124.6 Q929,124.6 929,129 L929,136.2 L905.5,136.2 Z" stroke-width="0.8" fill="#333" />
<line x1="906" y1="135.5" x2="916" y2="125.5" stroke-width="0.5" stroke="#888"/>
<line x1="909.2" y1="135.5" x2="919.2" y2="125.5" stroke-width="0.5" stroke="#888"/>
<line x1="912.4" y1="135.5" x2="922.4" y2="125.5" stroke-width="0.5" stroke="#888"/>
<line x1="915.6" y1="135.5" x2="925.6" y2="125.5" stroke-width="0.5" stroke="#888"/>
<line x1="918.8" y1="135.5" x2="928" y2="126.3" stroke-width="0.5" stroke="#888"/>
<line x1="922" y1="135.5" x2="928" y2="129.5" stroke-width="0.5" stroke="#888"/>
<line x1="925.2" y1="135.5" x2="928" y2="132.7" stroke-width="0.5" stroke="#888"/>
<line x1="928.4" y1="135.5" x2="928" y2="135.9" stroke-width="0.5" stroke="#888"/>
<rect x="316.2" y="153.9" width="97.1" height="3.5" rx="0" stroke-width="0" fill="#111" />
<line x1="316.2" y1="158.7" x2="413.3" y2="158.7" stroke-width="0.7" stroke="#666"/>
<rect x="312.9" y="160.3" width="103.4" height="5.3" rx="0" stroke-width="0" fill="#111" />
<line x1="317.2" y1="162.3" x2="412.3" y2="162.3" stroke-width="0.9" stroke="#aaa"/>
<rect x="319.9" y="158.4" width="4.2" height="8.2" rx="0" stroke-width="0" fill="#111" />
<rect x="341.4" y="158.4" width="4.2" height="8.2" rx="0" stroke-width="0" fill="#111" />
<rect x="383.15" y="158.4" width="4.2" height="8.2" rx="0" stroke-width="0" fill="#111" />
<rect x="403.9" y="158.4" width="4.2" height="8.2" rx="0" stroke-width="0" fill="#111" />
<rect x="417.25" y="153.9" width="88" height="3.5" rx="0" stroke-width="0" fill="#111" />
<line x1="417.25" y1="158.7" x2="505.25" y2="158.7" stroke-width="0.7" stroke="#666"/>
<rect x="417.25" y="160.3" width="91" height="5.3" rx="0" stroke-width="0" fill="#111" />
<line x1="418.25" y1="162.3" x2="504.25" y2="162.3" stroke-width="0.9" stroke="#aaa"/>
<rect x="421.4" y="158.4" width="4.2" height="8.2" rx="0" stroke-width="0" fill="#111" />
<rect x="440.15" y="158.4" width="4.2" height="8.2" rx="0" stroke-width="0" fill="#111" />
<rect x="477.4" y="158.4" width="4.2" height="8.2" rx="0" stroke-width="0" fill="#111" />
<rect x="496.15" y="158.4" width="4.2" height="8.2" rx="0" stroke-width="0" fill="#111" />
<rect x="806.25" y="153.9" width="108" height="3.5" rx="0" stroke-width="0" fill="#111" />
<line x1="806.25" y1="158.7" x2="914.25" y2="158.7" stroke-width="0.7" stroke="#666"/>
<rect x="802.95" y="160.3" width="114.3" height="5.3" rx="0" stroke-width="0" fill="#111" />
<line x1="807.25" y1="162.3" x2="913.25" y2="162.3" stroke-width="0.9" stroke="#aaa"/>
<rect x="810.9" y="158.4" width="4.2" height="8.2" rx="0" stroke-width="0" fill="#111" />
<rect x="834.65" y="158.4" width="4.2" height="8.2" rx="0" stroke-width="0" fill="#111" />
<rect x="882.15" y="158.4" width="4.2" height="8.2" rx="0" stroke-width="0" fill="#111" />
<rect x="905.4" y="158.4" width="4.2" height="8.2" rx="0" stroke-width="0" fill="#111" />
<circle cx="860.5" cy="163.6" r="1.2" stroke-width="0.2" fill="#111" />
<line x1="317" y1="278.75" x2="412.75" y2="278.75" stroke-width="1.25" />
<rect x="348.6" y="283.8" width="32.3" height="27.6" rx="3" stroke-width="1.71" fill="none" />
<rect x="345" y="288.2" width="7.9" height="6.3" rx="0" stroke-width="0" fill="#111" />
<rect x="370.9" y="288.2" width="9.4" height="6.3" rx="0" stroke-width="0" fill="#111" />
<rect x="345" y="301" width="7.9" height="6.3" rx="0" stroke-width="0" fill="#111" />
<rect x="370.9" y="301" width="9.4" height="6.3" rx="0" stroke-width="0" fill="#111" />
<rect x="306.6" y="336.2" width="5.4" height="11.2" rx="1" stroke-width="0.4" fill="#1a1a1a" />
<rect x="321.5" y="351.3" width="5.9" height="9.7" rx="0" stroke-width="1.14" fill="none" />
<line x1="313.7" y1="354.6" x2="330.4" y2="354.6" stroke-width="0.9" />
<line x1="417.25" y1="278.75" x2="505.25" y2="278.75" stroke-width="0.8" stroke-dasharray="9 3"/>
<rect x="418.6" y="310" width="85.4" height="41.2" rx="0" stroke-width="1.6" fill="none" />
<polyline points="421.2,351 421.2,312.6 502,312.6 502,351" stroke-width="1.14" fill="none" />
<line x1="509.75" y1="154.6" x2="801.75" y2="154.6" stroke-width="1.71" />
<line x1="509.75" y1="159.4" x2="801.75" y2="159.4" stroke-width="1.71" />
<line x1="509.75" y1="173.2" x2="801.75" y2="173.2" stroke-width="1.71" />
<line x1="509.75" y1="176.9" x2="801.75" y2="176.9" stroke-width="1.71" />
<line x1="509.75" y1="194.3" x2="801.75" y2="194.3" stroke-width="1.71" />
<line x1="509.75" y1="198.9" x2="801.75" y2="198.9" stroke-width="1.71" />
<line x1="509.75" y1="212.8" x2="801.75" y2="212.8" stroke-width="1.71" />
<line x1="509.75" y1="216.8" x2="801.75" y2="216.8" stroke-width="1.71" />
<line x1="509.75" y1="234.4" x2="801.75" y2="234.4" stroke-width="1.71" />
<line x1="509.75" y1="238.5" x2="801.75" y2="238.5" stroke-width="1.71" />
<line x1="509.75" y1="252.2" x2="801.75" y2="252.2" stroke-width="1.71" />
<line x1="509.75" y1="256.2" x2="801.75" y2="256.2" stroke-width="1.71" />
<path d="M516.4,351.5 L516.4,312.5 L538.5,279.8 Q541.5,276.3 547,276 Q582,272.6 612,276.5 Q619.5,277.5 623,281 L636,294.8 Q644.4,303 652.8,294.8 L663.8,279.8 Q666.5,276.3 671.5,276 Q703,272.6 734.3,276.5 Q743.5,277.8 747.3,281.8 L767.7,312.5 L767.7,351.5" stroke-width="2.17" fill="none" />
<path d="M524,351 L524,340 M525.8,323.5 L528,317.7 L546,289.8 Q549.5,284.6 555,284.3 L608,284.3 Q614,284.6 617.5,289.8 L630,313 L637.9,336 Q644.4,369 650.9,336 L656.4,312 L667.5,289.8 Q671,284.6 677,284.3 L728.8,284.3 Q734.5,284.6 738,288.3 L756.6,312 L758.5,323.5" stroke-width="1.82" fill="none" />
<line x1="516.4" y1="351.3" x2="524" y2="351.3" stroke-width="1.37" />
<line x1="760" y1="351.3" x2="767.7" y2="351.3" stroke-width="1.37" />
<line x1="760.3" y1="340" x2="760.3" y2="351" stroke-width="1.37" />
<line x1="542.5" y1="296" x2="620.5" y2="296" stroke-width="1.14" />
<line x1="541" y1="298.2" x2="621.5" y2="298.2" stroke-width="1.14" />
<line x1="666" y1="296" x2="745" y2="296" stroke-width="1.14" />
<line x1="665" y1="298.2" x2="746.5" y2="298.2" stroke-width="1.14" />
<line x1="526" y1="323.3" x2="538" y2="323.3" stroke-width="0.8" />
<line x1="747" y1="323.3" x2="758.5" y2="323.3" stroke-width="0.8" />
<rect x="526.5" y="326.5" width="8.5" height="12.5" rx="0" stroke-width="0.3" fill="#333" />
<rect x="509.8" y="336.2" width="4.6" height="11.2" rx="1" stroke-width="0.4" fill="#1a1a1a" />
<rect x="772.5" y="336.2" width="4.3" height="10.3" rx="0" stroke-width="0.8" fill="#222" />
<rect x="629.5" y="314" width="3" height="22" rx="0" stroke-width="0.6" fill="#222" />
<rect x="653.8" y="314" width="3" height="22" rx="0" stroke-width="0.6" fill="#222" />
<polyline points="623,319 629,319 629,330 626,330" stroke-width="0.8" fill="#333" />
<polyline points="663,319 657,319 657,330 660,330" stroke-width="0.8" fill="#333" />
<circle cx="543.3" cy="301" r="0.6" stroke-width="0.2" fill="#111" />
<circle cx="554.8" cy="304.4" r="0.6" stroke-width="0.2" fill="#111" />
<circle cx="569.5" cy="301" r="0.6" stroke-width="0.2" fill="#111" />
<circle cx="598.8" cy="301" r="0.6" stroke-width="0.2" fill="#111" />
<circle cx="616.3" cy="311.5" r="0.6" stroke-width="0.2" fill="#111" />
<circle cx="542.8" cy="318.8" r="0.6" stroke-width="0.2" fill="#111" />
<circle cx="743" cy="301" r="0.6" stroke-width="0.2" fill="#111" />
<circle cx="746" cy="304.7" r="0.6" stroke-width="0.2" fill="#111" />
<circle cx="539.3" cy="310.2" r="1.4" stroke-width="0.7" fill="none" />
<rect x="775.4" y="280.5" width="17" height="36" rx="8.5" stroke-width="1.94" fill="none" />
<circle cx="784" cy="289.8" r="4.6" stroke-width="0.8" fill="#2a2a2a" />
<circle cx="784" cy="306.6" r="4.6" stroke-width="0.8" fill="#2a2a2a" />
<line x1="806.25" y1="291" x2="914.5" y2="291" stroke-width="1.14" stroke-dasharray="12 3"/>
<line x1="806.25" y1="309.7" x2="914.5" y2="309.7" stroke-width="1.48" />
<polyline points="808.7,351 808.7,312.3 912.6,312.3 912.6,351" stroke-width="1.14" fill="none" />
<polyline points="920.8,300.4 929.4,303.3 929.4,308.2 925.5,309.2 925.5,329.8 929.4,331.8 929.4,335.7 920.8,339.6 920.8,351.3" stroke-width="1.37" fill="none" />
<rect x="914.9" y="335.8" width="4.6" height="14.6" rx="0" stroke-width="0.4" fill="#1a1a1a" />
<rect x="929.3" y="341" width="10.9" height="10.4" rx="0" stroke-width="1.82" fill="none" />
<line x1="929.3" y1="130" x2="929.3" y2="303" stroke-width="1.71" />
<line x1="932.9" y1="161" x2="932.9" y2="301.5" stroke-width="4.4" stroke="#1a1a1a" stroke-linecap="round"/>
<line x1="932.7" y1="178" x2="932.7" y2="282" stroke-width="1.14" stroke="#eee" stroke-dasharray="13 5"/>
<ellipse cx="931.6" cy="142.6" rx="2.1" ry="5.3" stroke-width="0.8" fill="#222" />
<line x1="937.8" y1="284.5" x2="953.8" y2="350.5" stroke-width="6.0" stroke="#111" stroke-linecap="round"/>
<line x1="938.2" y1="286.5" x2="953.5" y2="349.5" stroke-width="1.71" stroke="#fff" stroke-dasharray="14 2.5"/>
<path d="M899,124 L899,103.5 Q899,96.2 906,98.4 L932.8,107.6 Q938.4,109.5 938.4,115.2 L938.4,168.5 Q938.4,175.5 932.5,176" stroke-width="3.6" fill="none" stroke="#1a1a1a"/>
<path d="M899,123 L899,103.5 Q899,96.2 906,98.4 L932.5,107.6 Q937.8,109.5 937.8,115.2 L937.8,167.8 Q937.8,174.3 932.5,174.6" stroke-width="0.6" fill="none" stroke="#6a6a6a"/>
<polygon points="660.2,75.3 694.6,73.9 694.6,91.2 660.2,89.7" stroke-width="1.71" fill="none" />
<line x1="668.6" y1="75" x2="668.6" y2="90" stroke-width="1.37" />
<line x1="654.5" y1="82.3" x2="742" y2="82.3" stroke-width="0.7" stroke-dasharray="12 3 2 3"/>
<rect x="694.6" y="73.2" width="15.7" height="18.6" rx="0" stroke-width="1.71" fill="none" />
<line x1="697" y1="73.4" x2="697" y2="91.6" stroke-width="1.6" />
<line x1="700.2" y1="73.4" x2="700.2" y2="91.6" stroke-width="1.6" />
<line x1="704" y1="73.4" x2="704" y2="91.6" stroke-width="1.6" />
<line x1="707.6" y1="73.4" x2="707.6" y2="91.6" stroke-width="1.6" />
<line x1="694.6" y1="79.5" x2="710.3" y2="79.5" stroke-width="0.8" />
<line x1="694.6" y1="85.5" x2="710.3" y2="85.5" stroke-width="0.8" />
<polyline points="710.3,73.4 715,76.6 715,87.8 710.3,91.6" stroke-width="1.6" fill="none" />
<line x1="712.6" y1="75" x2="712.6" y2="90" stroke-width="1.14" />
<rect x="715" y="77" width="27.8" height="10.6" rx="0" stroke-width="1.6" fill="none" />
<line x1="717.8" y1="77" x2="717.8" y2="87.6" stroke-width="1.37" />
<line x1="721.5" y1="77" x2="721.5" y2="87.6" stroke-width="1.37" />
<line x1="727.6" y1="77" x2="727.6" y2="87.6" stroke-width="1.82" />
<line x1="729" y1="77" x2="729" y2="87.6" stroke-width="1.37" />
<rect x="730.4" y="72.2" width="5.8" height="3.4" rx="0" stroke-width="1.37" fill="none" />
<line x1="733.3" y1="75.6" x2="733.3" y2="77" stroke-width="1.14" />
<circle cx="746.2" cy="82.3" r="6.6" stroke-width="1.82" fill="#fff" />
<circle cx="746.2" cy="82.3" r="4.1" stroke-width="1.48" fill="none" />
<line x1="749" y1="77" x2="778.5" y2="53.3" stroke-width="2.96" />
<line x1="777" y1="54.5" x2="788.3" y2="46.3" stroke-width="3.6" stroke="#333"/>
<line x1="778" y1="53.9" x2="788" y2="46.6" stroke-width="0.8" stroke="#bbb" stroke-dasharray="1.2 1.2"/>
<line x1="751.5" y1="80.5" x2="757" y2="75" stroke-width="1.14" />
<polyline points="742.5,88 747,98.5 746,99.5 746,109" stroke-width="1.6" fill="none" />
<polyline points="751.5,86.5 757.5,95 760.8,99.5 760.8,109" stroke-width="1.6" fill="none" />
<polyline points="745,92 753,89" stroke-width="1.14" fill="none" />
<polyline points="747.5,96.5 756.5,93" stroke-width="1.14" fill="none" />
<line x1="745.8" y1="100.3" x2="761.2" y2="100.3" stroke-width="1.71" />
<line x1="745.8" y1="102.5" x2="761.2" y2="102.5" stroke-width="1.71" />
<line x1="745.8" y1="104.7" x2="761.2" y2="104.7" stroke-width="1.71" />
<line x1="745.8" y1="106.9" x2="761.2" y2="106.9" stroke-width="1.71" />
<rect x="743.4" y="109.4" width="19.8" height="3.8" rx="0" stroke-width="1.48" fill="#333" />
<line x1="748.5" y1="113.2" x2="748.5" y2="121.7" stroke-width="1.6" />
<line x1="759.5" y1="113.2" x2="759.5" y2="121.7" stroke-width="1.6" />
<line x1="742.8" y1="122" x2="764.2" y2="122" stroke-width="1.82" />
<circle cx="754" cy="117.3" r="2.6" stroke-width="1.37" fill="none" />
<line x1="752.3" y1="118.8" x2="767.7" y2="103.2" stroke-width="3.2" stroke="#222"/>
<line x1="752.8" y1="118.2" x2="767.2" y2="103.8" stroke-width="0.7" stroke="#aaa"/>
<line x1="753.4" y1="124" x2="753.4" y2="127.2" stroke-width="0.9" />
<polygon points="110.8,87.7 148,87.7 154.4,101.8 153.4,109.2 105.4,109.2 104.4,101.8" stroke-width="2.17" fill="none" />
<line x1="113.3" y1="90.4" x2="146" y2="90.4" stroke-width="1.71" />
<line x1="104.4" y1="102.2" x2="154.4" y2="102.2" stroke-width="2.28" />
<polyline points="113.3,90.4 108,101.8" stroke-width="1.37" fill="none" />
<polyline points="146,90.4 150.8,101.8" stroke-width="1.37" fill="none" />
<polyline points="112,88.5 106.2,101.8" stroke-width="1.14" fill="none" />
<polyline points="147,88.5 152.6,101.8" stroke-width="1.14" fill="none" />
<line x1="110.3" y1="102.2" x2="110.3" y2="109.2" stroke-width="1.48" />
<line x1="148.5" y1="102.2" x2="148.5" y2="109.2" stroke-width="1.48" />
<line x1="107.3" y1="102.2" x2="107.8" y2="109.2" stroke-width="1.14" />
<line x1="151.4" y1="102.2" x2="151" y2="109.2" stroke-width="1.14" />
<polyline points="120.2,109.2 118.3,119.3" stroke-width="1.71" fill="none" />
<polyline points="126.2,109.2 123.7,119.3" stroke-width="1.71" fill="none" />
<polyline points="132.1,109.2 134.6,119.3" stroke-width="1.71" fill="none" />
<polyline points="137.6,109.2 140,119.3" stroke-width="1.71" fill="none" />
<polyline points="126.2,109.2 129.2,106.8 132.1,109.2" stroke-width="1.82" fill="none" />
<line x1="118" y1="118.4" x2="124" y2="118.4" stroke-width="1.37" />
<line x1="134.4" y1="118.4" x2="140.2" y2="118.4" stroke-width="1.37" />
<line x1="866.8" y1="230.6" x2="880.3" y2="218.3" stroke-width="4.14" stroke="#222"/>
<line x1="867.3" y1="230" x2="879.8" y2="218.8" stroke-width="0.92" stroke="#bbb"/>
<rect x="856.4" y="228.6" width="17.6" height="3.6" rx="0" stroke-width="0.92" fill="#151515" />
<polygon points="858.5,232.2 857,236 874.5,236 872.5,232.2" stroke-width="1.31" fill="none" />
<line x1="860" y1="233" x2="871" y2="235.5" stroke-width="1.17" />
<line x1="860" y1="235.5" x2="871" y2="233" stroke-width="1.17" />
<rect x="855.3" y="236.3" width="20.6" height="4.6" rx="0" stroke-width="0.92" fill="#151515" />
<rect x="858.6" y="241" width="13.6" height="21.5" rx="0" stroke-width="1.84" fill="none" />
<ellipse cx="865.3" cy="246.5" rx="6.8" ry="5.2" stroke-width="1.96" fill="none" />
<line x1="862.3" y1="241" x2="862.3" y2="262.5" stroke-width="1.31" />
<line x1="868.5" y1="241" x2="868.5" y2="262.5" stroke-width="1.31" />
<line x1="856.5" y1="247" x2="858.6" y2="247" stroke-width="2.62" />
<line x1="872.2" y1="247" x2="874.5" y2="247" stroke-width="2.62" />
<line x1="856.4" y1="243" x2="856.4" y2="262" stroke-width="1.31" />
<line x1="874.6" y1="243" x2="874.6" y2="256" stroke-width="1.31" />
<rect x="857.5" y="258.2" width="16" height="3" rx="0" stroke-width="0.69" fill="#151515" />
<rect x="838" y="237.5" width="8.2" height="7.4" rx="0" stroke-width="1.7" fill="none" />
<line x1="838" y1="239.7" x2="846.2" y2="239.7" stroke-width="1.57" />
<line x1="838" y1="242" x2="846.2" y2="242" stroke-width="1.57" />
<rect x="828.6" y="244.9" width="20.4" height="21.3" rx="0" stroke-width="1.96" fill="none" />
<circle cx="842" cy="254.7" r="5.8" stroke-width="2.1" fill="none" />
<circle cx="842" cy="254.7" r="3.3" stroke-width="1.57" fill="none" />
<rect x="834" y="248" width="2.4" height="14" rx="0" stroke-width="0.57" fill="#151515" />
<rect x="819.3" y="249.5" width="9.3" height="12.1" rx="0" stroke-width="1.7" fill="none" />
<line x1="822.5" y1="249.5" x2="822.5" y2="261.6" stroke-width="1.31" />
<line x1="815.5" y1="255.5" x2="828" y2="255.5" stroke-width="0.8" />
<rect x="830.5" y="241.5" width="6" height="3.4" rx="0" stroke-width="1.31" fill="none" />
<line x1="846.2" y1="249" x2="849" y2="249" stroke-width="1.57" />
<line x1="849" y1="252" x2="851.5" y2="257" stroke-width="1.57" />
<polygon points="851,270 857,258 858.5,258 858.5,272" stroke-width="1.57" fill="#333" />
<rect x="831" y="266.4" width="44" height="3.2" rx="0" stroke-width="0.69" fill="#151515" />
<circle cx="842.5" cy="276.6" r="5.9" stroke-width="2.36" fill="none" />
<circle cx="842.5" cy="276.6" r="3.1" stroke-width="1.7" fill="#444" />
<circle cx="864.7" cy="276.6" r="5.9" stroke-width="2.36" fill="none" />
<circle cx="864.7" cy="276.6" r="3.1" stroke-width="1.7" fill="#444" />
<rect x="850" y="270.5" width="7.5" height="9" rx="0" stroke-width="1.57" fill="#fff" />
<rect x="833" y="270.5" width="3.4" height="14" rx="0" stroke-width="0.92" fill="#151515" />
<rect x="871.5" y="270.5" width="3.4" height="10" rx="0" stroke-width="0.92" fill="#151515" />
<line x1="836.5" y1="273" x2="836.5" y2="283" stroke-width="1.31" />
<line x1="838.5" y1="282.5" x2="838.5" y2="290.3" stroke-width="1.96" />
<line x1="842.5" y1="282.5" x2="842.5" y2="290.3" stroke-width="1.96" />
<line x1="846.3" y1="282.5" x2="846.3" y2="290.3" stroke-width="1.96" />
<line x1="858.5" y1="282.5" x2="858.5" y2="290.3" stroke-width="1.96" />
<line x1="862.5" y1="282.5" x2="862.5" y2="290.3" stroke-width="1.96" />
<line x1="866.5" y1="282.5" x2="866.5" y2="290.3" stroke-width="1.96" />
<rect x="850.5" y="279.5" width="6.5" height="4" rx="0" stroke-width="0.92" fill="#151515" />
<line x1="853.7" y1="283.5" x2="853.7" y2="290.3" stroke-width="2.62" />
<line x1="838" y1="286" x2="847" y2="286" stroke-width="1.57" />
<line x1="858" y1="286" x2="867" y2="286" stroke-width="1.57" />
<line x1="836" y1="282.6" x2="849" y2="282.6" stroke-width="1.84" />
<line x1="857" y1="282.6" x2="870" y2="282.6" stroke-width="1.84" />
<rect x="876.8" y="267.2" width="13" height="12" rx="0" stroke-width="1.96" fill="none" />
<circle cx="883.3" cy="273.2" r="4.2" stroke-width="1.7" fill="none" />
<circle cx="883.3" cy="273.2" r="2.2" stroke-width="1.31" fill="none" />
<rect x="889.8" y="265.3" width="12" height="15.7" rx="0" stroke-width="1.84" fill="none" />
<line x1="893.2" y1="265.3" x2="893.2" y2="281" stroke-width="1.31" />
<line x1="896.3" y1="265.3" x2="896.3" y2="281" stroke-width="1.57" />
<line x1="900" y1="265.3" x2="900" y2="281" stroke-width="1.31" />
<line x1="875" y1="264" x2="875" y2="281" stroke-width="1.57" />
<line x1="872" y1="273.2" x2="906.5" y2="273.2" stroke-width="0.69" />
<rect x="875.5" y="262" width="2.5" height="4.5" rx="0" stroke-width="0.69" fill="#151515" />
<rect x="856" y="249.5" width="2.6" height="12" rx="0" stroke-width="0.57" fill="#151515" />
<rect x="872.4" y="243" width="2.6" height="12" rx="0" stroke-width="0.57" fill="#151515" />
<line x1="860" y1="251.5" x2="871" y2="251.5" stroke-width="1.57" />
<line x1="860" y1="256" x2="871" y2="256" stroke-width="1.57" />
<rect x="876.8" y="280" width="10" height="2" rx="0" stroke-width="0.46" fill="#151515" />
<line x1="1062.3" y1="136.5" x2="1271.6" y2="136.5" stroke-width="1.94" />
<line x1="1057.2" y1="134.5" x2="1057.2" y2="303" stroke-width="1.6" />
<line x1="1064.5" y1="136.5" x2="1064.5" y2="303" stroke-width="1.6" />
<line x1="1270.8" y1="136.5" x2="1270.8" y2="303" stroke-width="1.6" />
<line x1="1276.8" y1="134.5" x2="1276.8" y2="275" stroke-width="1.6" />
<line x1="1054" y1="275" x2="1054" y2="351.7" stroke-width="1.71" />
<line x1="1054" y1="275" x2="1057.2" y2="275" stroke-width="1.37" />
<line x1="1280" y1="275" x2="1280" y2="351.7" stroke-width="1.71" />
<line x1="1276.8" y1="275" x2="1280" y2="275" stroke-width="1.37" />
<line x1="1277.6" y1="275" x2="1277.6" y2="340" stroke-width="1.37" />
<line x1="1110.6" y1="136.5" x2="1110.6" y2="340.9" stroke-width="1.82" />
<line x1="1222.6" y1="136.5" x2="1222.6" y2="340.9" stroke-width="1.82" />
<line x1="1225" y1="136.5" x2="1225" y2="211" stroke-width="1.14" />
<rect x="1110.6" y="153.9" width="112" height="3.5" rx="0" stroke-width="0" fill="#111" />
<line x1="1110.6" y1="158.7" x2="1222.6" y2="158.7" stroke-width="0.7" stroke="#666"/>
<rect x="1110.6" y="160.3" width="112" height="3" rx="0" stroke-width="0" fill="#111" />
<rect x="1115.4" y="158.4" width="4.4" height="8.2" rx="0" stroke-width="0" fill="#111" />
<rect x="1139.9" y="158.4" width="4.4" height="8.2" rx="0" stroke-width="0" fill="#111" />
<rect x="1188.8" y="158.4" width="4.4" height="8.2" rx="0" stroke-width="0" fill="#111" />
<rect x="1212.8" y="158.4" width="4.4" height="8.2" rx="0" stroke-width="0" fill="#111" />
<rect x="1165.7" y="160" width="1.8" height="5.5" rx="0" stroke-width="0" fill="#111" />
<polyline points="1127.2,136.5 1131,118.8 1202.2,118.8 1207.3,136.5" stroke-width="1.82" fill="none" />
<rect x="1135.2" y="124.5" width="9.5" height="7.7" rx="0" stroke-width="0" fill="#111" />
<rect x="1153.2" y="124.5" width="9.5" height="7.7" rx="0" stroke-width="0" fill="#111" />
<rect x="1171.3" y="124.5" width="9.4" height="7.7" rx="0" stroke-width="0" fill="#111" />
<rect x="1188.9" y="124.5" width="9.3" height="7.7" rx="0" stroke-width="0" fill="#111" />
<path d="M1158.4,117.6 L1158.4,96.5 A8.6,8.6 0 0 1 1175.6,96.5 L1175.6,117.6" stroke-width="1.6" fill="none" />
<circle cx="1167" cy="96.3" r="6.8" stroke-width="1.71" fill="none" />
<line x1="1160.5" y1="96.3" x2="1173.5" y2="96.3" stroke-width="0.9" />
<line x1="1167" y1="89.8" x2="1167" y2="102.8" stroke-width="0.9" />
<rect x="1161" y="104.8" width="12" height="12.8" rx="0" stroke-width="1.6" fill="none" />
<rect x="1163" y="106.8" width="8" height="10.8" rx="0" stroke-width="1.14" fill="none" />
<rect x="1165.3" y="112.8" width="3.6" height="4.8" rx="0" stroke-width="0.9" fill="none" />
<polyline points="1157,118.6 1159.5,115 1174.5,115 1177,118.6" stroke-width="1.25" fill="none" />
<line x1="1159.6" y1="105" x2="1159.6" y2="113" stroke-width="1.82" />
<rect x="1075.5" y="109" width="3.6" height="27.5" rx="0" stroke-width="1.48" fill="#555" />
<path d="M1075.5,109.8 L1071.5,109.8 Q1070.3,114 1071.5,119.4 L1075.5,119.4 Z" stroke-width="2.28" fill="#fff" />
<line x1="1079" y1="124.1" x2="1118" y2="124.1" stroke-width="1.37" />
<line x1="1079" y1="126.3" x2="1118" y2="126.3" stroke-width="1.37" />
<rect x="1096.6" y="113.3" width="3.4" height="10.8" rx="0" stroke-width="1.37" fill="none" />
<rect x="1118" y="109.5" width="3.5" height="27" rx="0" stroke-width="1.48" fill="none" />
<path d="M1052,126.5 Q1057,122.5 1063.5,123.5 L1062,134 L1056,135.2 Z" stroke-width="2.28" fill="none" />
<path d="M1053.5,127 L1057,134.5" stroke-width="2.28" fill="none" />
<path d="M1059.5,124 L1058.8,134" stroke-width="1.37" fill="none" />
<rect x="1058.4" y="137.2" width="4.8" height="11.6" rx="2" stroke-width="0.5" fill="#151515" />
<path d="M1282,126.5 Q1277,122.5 1270.5,123.5 L1272,134 L1278,135.2 Z" stroke-width="2.28" fill="none" />
<path d="M1280.5,127 L1277,134.5" stroke-width="2.28" fill="none" />
<path d="M1274.5,124 L1275.2,134" stroke-width="1.37" fill="none" />
<rect x="1271.6" y="137.2" width="4.4" height="11.6" rx="2" stroke-width="0.5" fill="#151515" />
<line x1="1227.9" y1="99.5" x2="1227.9" y2="179.3" stroke-width="4.4" stroke="#141414" stroke-linecap="round"/>
<line x1="1227.9" y1="100.5" x2="1227.9" y2="178.5" stroke-width="0.9" stroke="#aaa"/>
<line x1="1267.6" y1="99.5" x2="1267.6" y2="179.3" stroke-width="4.4" stroke="#141414" stroke-linecap="round"/>
<line x1="1267.6" y1="100.5" x2="1267.6" y2="178.5" stroke-width="0.9" stroke="#aaa"/>
<ellipse cx="1239.5" cy="135.3" rx="2.2" ry="1" stroke-width="0.6" fill="#222" />
<line x1="1234.9" y1="160" x2="1234.9" y2="300.5" stroke-width="3.9" stroke="#141414" stroke-linecap="round"/>
<line x1="1234.9" y1="161" x2="1234.9" y2="299.5" stroke-width="0.7" stroke="#999"/>
<line x1="1259.6" y1="160" x2="1259.6" y2="300.5" stroke-width="3.9" stroke="#141414" stroke-linecap="round"/>
<line x1="1259.6" y1="161" x2="1259.6" y2="299.5" stroke-width="0.7" stroke="#999"/>
<rect x="1236.8" y="163.2" width="20.9" height="3.3" rx="0" stroke-width="0" fill="#141414" />
<rect x="1236.8" y="176.4" width="20.9" height="4.1" rx="0" stroke-width="0" fill="#141414" />
<line x1="1238.5" y1="178.45" x2="1256" y2="178.45" stroke-width="1.14" stroke="#ddd"/>
<circle cx="1239.8" cy="178.4" r="0.7" stroke-width="0" fill="#111" />
<circle cx="1254.8" cy="178.4" r="0.7" stroke-width="0" fill="#111" />
<rect x="1236.8" y="189.6" width="20.9" height="3.6" rx="0" stroke-width="0" fill="#141414" />
<rect x="1236.8" y="216.8" width="20.9" height="4" rx="0" stroke-width="0" fill="#141414" />
<rect x="1236.8" y="242" width="20.9" height="4" rx="0" stroke-width="0" fill="#141414" />
<line x1="1238.5" y1="244" x2="1256" y2="244" stroke-width="1.14" stroke="#ddd"/>
<rect x="1236.8" y="268.4" width="20.9" height="5" rx="0" stroke-width="0" fill="#141414" />
<line x1="1238.5" y1="270.9" x2="1256" y2="270.9" stroke-width="0.6" stroke="#bbb"/>
<line x1="1237" y1="277.4" x2="1257.6" y2="277.4" stroke-width="1.14" />
<circle cx="1240.5" cy="277.4" r="0.7" stroke-width="0" fill="#111" />
<circle cx="1254.2" cy="277.4" r="0.7" stroke-width="0" fill="#111" />
<rect x="1236.8" y="294.8" width="20.9" height="4.8" rx="0" stroke-width="0" fill="#141414" />
<line x1="1238.5" y1="297.2" x2="1256" y2="297.2" stroke-width="1.14" stroke="#ddd"/>
<rect x="1232.3" y="280.7" width="4.2" height="6.6" rx="0" stroke-width="0" fill="#111" />
<rect x="1258" y="280.7" width="4.6" height="6.6" rx="0" stroke-width="0" fill="#111" />
<circle cx="1234.9" cy="302" r="1.9" stroke-width="0" fill="#141414" />
<rect x="1099.2" y="211" width="11.4" height="50.3" rx="0" stroke-width="1.48" fill="none" />
<line x1="1099.2" y1="215" x2="1103.19" y2="211.01" stroke-width="1.48" />
<line x1="1099.2" y1="226.4" x2="1110.6" y2="215" stroke-width="1.48" />
<line x1="1099.2" y1="237.8" x2="1110.6" y2="226.4" stroke-width="1.48" />
<line x1="1099.2" y1="249.2" x2="1110.6" y2="237.8" stroke-width="1.48" />
<line x1="1099.2" y1="260.6" x2="1110.6" y2="249.2" stroke-width="1.48" />
<rect x="1222.6" y="211" width="11.2" height="50.3" rx="0" stroke-width="1.48" fill="none" />
<line x1="1229.88" y1="211.01" x2="1233.8" y2="215" stroke-width="1.48" />
<line x1="1222.6" y1="215" x2="1233.8" y2="226.4" stroke-width="1.48" />
<line x1="1222.6" y1="226.4" x2="1233.8" y2="237.8" stroke-width="1.48" />
<line x1="1222.6" y1="237.8" x2="1233.8" y2="249.2" stroke-width="1.48" />
<line x1="1222.6" y1="249.2" x2="1233.8" y2="260.6" stroke-width="1.48" />
<line x1="1099.2" y1="261.3" x2="1124" y2="261.3" stroke-width="1.48" />
<line x1="1209" y1="261.3" x2="1233.8" y2="261.3" stroke-width="1.48" />
<line x1="1068.3" y1="217.3" x2="1099" y2="217.3" stroke-width="0.9" stroke-dasharray="7 2.5"/>
<line x1="1068.3" y1="221.3" x2="1099" y2="221.3" stroke-width="0.9" stroke-dasharray="9 3"/>
<line x1="1068.3" y1="217.3" x2="1068.3" y2="221.3" stroke-width="0.9" />
<line x1="1233.8" y1="221" x2="1262" y2="221" stroke-width="0.8" stroke-dasharray="9 3"/>
<path d="M1112.9,262 L1112.9,247 Q1112.9,238.8 1121,238.8 L1213,238.8 Q1221,238.8 1221,247 L1221,262" stroke-width="1.71" fill="none" />
<line x1="1110.6" y1="248.8" x2="1222.6" y2="248.8" stroke-width="1.6" />
<line x1="1116" y1="241.5" x2="1122" y2="248" stroke-width="1.14" />
<line x1="1217.8" y1="241.5" x2="1211.8" y2="248" stroke-width="1.14" />
<path d="M1111.8,249 L1111.8,276.5 A5.2,5.2 0 0 0 1122.2,276.5 L1122.2,249" stroke-width="1.48" fill="none" />
<path d="M1211.8,249 L1211.8,276.5 A5.1,5.1 0 0 0 1222,276.5 L1222,249" stroke-width="1.48" fill="none" />
<line x1="1108.6" y1="260.4" x2="1125" y2="260.4" stroke-width="2.05" />
<line x1="1208.5" y1="260.4" x2="1225" y2="260.4" stroke-width="2.05" />
<circle cx="1216.5" cy="253.2" r="1.6" stroke-width="1.14" fill="none" />
<rect x="1158.6" y="228.4" width="17" height="2.6" rx="1.2" stroke-width="0.8" fill="#222" />
<polyline points="1160.5,231 1162,238.5 1172,238.5 1173.5,231" stroke-width="1.48" fill="none" />
<line x1="1161.3" y1="234.6" x2="1172.7" y2="234.6" stroke-width="1.14" stroke-dasharray="2 1.5"/>
<rect x="1151.9" y="236" width="5" height="16" rx="0" stroke-width="0.5" fill="#111" />
<rect x="1177.4" y="236" width="5" height="16" rx="0" stroke-width="0.5" fill="#111" />
<path d="M1158,252 Q1158,240.5 1167,240.5 Q1176,240.5 1176,252" stroke-width="1.6" fill="none" />
<rect x="1157.5" y="251.5" width="19" height="3.8" rx="0" stroke-width="0.6" fill="#222" />
<path d="M1186,233 Q1186,228 1190,228 L1200,228 Q1203.8,228 1203.8,233 Q1203.8,238 1199,238.4 L1196.5,240.5 L1192,240.5 L1190,238.4 Q1186,238 1186,233 Z" stroke-width="2.28" fill="none" />
<rect x="1189.5" y="230.6" width="10" height="5.5" rx="0" stroke-width="1.14" fill="none" />
<path d="M1201,233.5 Q1205.6,231 1205.6,226 L1205.6,216.8" stroke-width="2.96" fill="none" stroke-linecap="round"/>
<line x1="1182" y1="244.2" x2="1210" y2="244.2" stroke-width="2.28" stroke-dasharray="9 1.5 4 1.5"/>
<circle cx="1193.8" cy="244.2" r="1.7" stroke-width="0.9" fill="#fff" />
<line x1="1184" y1="242.5" x2="1184" y2="246" stroke-width="2.28" />
<circle cx="1167.3" cy="272.5" r="15.8" stroke-width="1.82" fill="none" />
<circle cx="1167.3" cy="272.5" r="12.8" stroke-width="2.28" fill="none" />
<circle cx="1167.3" cy="272.5" r="9" stroke-width="2.74" fill="none" />
<circle cx="1167.3" cy="272.5" r="5.6" stroke-width="1.71" fill="none" />
<rect x="1164.2" y="269.4" width="6.2" height="6.2" rx="1.4" stroke-width="1.71" fill="none" />
<line x1="1171.26" y1="276.46" x2="1173.66" y2="278.86" stroke-width="1.82" />
<line x1="1163.34" y1="276.46" x2="1160.94" y2="278.86" stroke-width="1.82" />
<line x1="1163.34" y1="268.54" x2="1160.94" y2="266.14" stroke-width="1.82" />
<line x1="1171.26" y1="268.54" x2="1173.66" y2="266.14" stroke-width="1.82" />
<line x1="1176.3" y1="272.5" x2="1180.1" y2="272.5" stroke-width="1.37" />
<line x1="1167.3" y1="281.5" x2="1167.3" y2="285.3" stroke-width="1.37" />
<line x1="1158.3" y1="272.5" x2="1154.5" y2="272.5" stroke-width="1.37" />
<line x1="1167.3" y1="263.5" x2="1167.3" y2="259.7" stroke-width="1.37" />
<rect x="1148.2" y="264" width="3.4" height="17" rx="0" stroke-width="0.6" fill="#222" />
<rect x="1151.2" y="266" width="2" height="13" rx="0" stroke-width="0.8" fill="none" />
<rect x="1183" y="264" width="3.2" height="17" rx="0" stroke-width="0.6" fill="#222" />
<rect x="1186" y="266.5" width="2.4" height="12" rx="0" stroke-width="0.9" fill="none" />
<rect x="1160" y="253.5" width="15" height="3.2" rx="0" stroke-width="0.5" fill="#1a1a1a" />
<line x1="1162" y1="258.2" x2="1172.6" y2="258.2" stroke-width="1.37" />
<rect x="1180" y="256.5" width="3.6" height="5" rx="0" stroke-width="0.4" fill="#1a1a1a" />
<line x1="1186" y1="282.3" x2="1194" y2="282.3" stroke-width="1.71" />
<line x1="1153" y1="285.5" x2="1157" y2="288.5" stroke-width="1.14" />
<line x1="1181.6" y1="285.5" x2="1177.6" y2="288.5" stroke-width="1.14" />
<circle cx="1136.4" cy="271.6" r="9.9" stroke-width="1.6" fill="none" />
<circle cx="1136.4" cy="271.6" r="8" stroke-width="0.9" fill="none" />
<ellipse cx="1136.4" cy="271.6" rx="6.01" ry="8" stroke-width="0.6" fill="none" />
<ellipse cx="1136.4" cy="271.6" rx="3.01" ry="8" stroke-width="0.6" fill="none" />
<ellipse cx="1136.4" cy="271.6" rx="0.01" ry="8" stroke-width="0.6" fill="none" />
<ellipse cx="1136.4" cy="271.6" rx="3.01" ry="8" stroke-width="0.6" fill="none" />
<ellipse cx="1136.4" cy="271.6" rx="6.01" ry="8" stroke-width="0.6" fill="none" />
<line x1="1128.8" y1="271.6" x2="1145.2" y2="271.6" stroke-width="0.6" />
<line x1="1137" y1="258.5" x2="1137" y2="285" stroke-width="0.6" />
<line x1="1131" y1="264.5" x2="1143" y2="278.5" stroke-width="0.6" />
<line x1="1143" y1="264.5" x2="1131" y2="278.5" stroke-width="0.6" />
<rect x="1146.5" y="265" width="3" height="13" rx="0" stroke-width="0.8" fill="none" />
<line x1="1110.6" y1="290" x2="1222.6" y2="290" stroke-width="1.82" />
<rect x="1156.7" y="299" width="20.6" height="19.4" rx="3.2" stroke-width="2.05" fill="none" />
<line x1="1110.6" y1="326.9" x2="1222.6" y2="326.9" stroke-width="1.82" />
<line x1="1126.7" y1="326.9" x2="1126.7" y2="340.9" stroke-width="1.37" />
<line x1="1130.1" y1="326.9" x2="1130.1" y2="340.9" stroke-width="1.37" />
<line x1="1203.9" y1="326.9" x2="1203.9" y2="340.9" stroke-width="1.37" />
<line x1="1206.4" y1="326.9" x2="1206.4" y2="340.9" stroke-width="1.37" />
<polyline points="1057.2,303.2 1108.8,308 1104.3,312.8 1058,311" stroke-width="2.05" fill="none" />
<polyline points="1104.3,312.8 1102.6,318 1057.2,318" stroke-width="1.82" fill="none" />
<line x1="1108.8" y1="307.6" x2="1110.6" y2="307.6" stroke-width="1.37" />
<rect x="1058.4" y="317.3" width="43.8" height="12.5" rx="0" stroke-width="0" fill="#121212" />
<rect x="1061" y="319.1" width="7.8" height="9.1" rx="2.2" stroke-width="0" fill="#fff" />
<rect x="1071.3" y="319.1" width="7.8" height="9.1" rx="2.2" stroke-width="0" fill="#fff" />
<rect x="1082.4" y="319.1" width="7" height="9.1" rx="2.2" stroke-width="0" fill="#fff" />
<rect x="1092.7" y="319.1" width="6.9" height="9.1" rx="2.2" stroke-width="0" fill="#fff" />
<line x1="1057.2" y1="329.5" x2="1103.5" y2="329.5" stroke-width="1.6" />
<line x1="1057.2" y1="331.8" x2="1103.5" y2="331.8" stroke-width="1.6" />
<polyline points="1102.6,318 1103.5,331.8 1110.4,340.6" stroke-width="1.6" fill="none" />
<line x1="1058" y1="330" x2="1058" y2="351.7" stroke-width="1.37" />
<line x1="1057.2" y1="303" x2="1057.2" y2="330" stroke-width="1.6" />
<polyline points="1277.6,303.2 1224.4,308 1229,312.8 1276.5,311" stroke-width="2.05" fill="none" />
<polyline points="1229,312.8 1230.8,318 1277.6,318" stroke-width="1.82" fill="none" />
<line x1="1224.4" y1="307.6" x2="1222.6" y2="307.6" stroke-width="1.37" />
<rect x="1232.5" y="317.3" width="43.1" height="12.5" rx="0" stroke-width="0" fill="#121212" />
<rect x="1235.1" y="319.1" width="7" height="9.1" rx="2.2" stroke-width="0" fill="#fff" />
<rect x="1245.4" y="319.1" width="7" height="9.1" rx="2.2" stroke-width="0" fill="#fff" />
<rect x="1255.7" y="319.1" width="6.9" height="9.1" rx="2.2" stroke-width="0" fill="#fff" />
<rect x="1266" y="319.1" width="7" height="9.1" rx="2.2" stroke-width="0" fill="#fff" />
<line x1="1232.2" y1="329.5" x2="1277" y2="329.5" stroke-width="1.6" />
<line x1="1232.2" y1="331.8" x2="1277" y2="331.8" stroke-width="1.6" />
<polyline points="1230.8,318 1232.2,331.8 1223.6,340.6" stroke-width="1.6" fill="none" />
<line x1="1276" y1="330" x2="1276" y2="351.7" stroke-width="1.37" />
<line x1="1270.8" y1="303" x2="1270.8" y2="305" stroke-width="1.14" />
<rect x="1066.6" y="284.5" width="39.4" height="12" rx="0" stroke-width="0.9" fill="none" stroke-dasharray="8 3"/>
<ellipse cx="1084.8" cy="278" rx="1.6" ry="1.2" stroke-width="0.4" fill="#222" />
<ellipse cx="1088" cy="278" rx="1.6" ry="1.2" stroke-width="0.4" fill="#222" />
<line x1="1054" y1="340.9" x2="1280" y2="340.9" stroke-width="2.05" />
<line x1="1054" y1="351.7" x2="1280" y2="351.7" stroke-width="2.05" />
<path d="M1058.5,351.7 L1058.5,384.5 A13.5,13.5 0 0 0 1085.5,384.5 L1085.5,351.7" stroke-width="1.94" fill="none" />
<path d="M1089.4,351.7 L1089.4,384.35 A13.65,13.65 0 0 0 1116.7,384.35 L1116.7,351.7" stroke-width="1.94" fill="none" />
<path d="M1217.6,351.7 L1217.6,384.7 A13.3,13.3 0 0 0 1244.2,384.7 L1244.2,351.7" stroke-width="1.94" fill="none" />
<path d="M1248.5,351.7 L1248.5,384.55 A13.45,13.45 0 0 0 1275.4,384.55 L1275.4,351.7" stroke-width="1.94" fill="none" />
<line x1="52.5" y1="385.5" x2="52.5" y2="463" stroke-width="1.13" />
<line x1="174.25" y1="350" x2="174.25" y2="434.5" stroke-width="1.13" />
<line x1="582.75" y1="350" x2="582.75" y2="434.5" stroke-width="1.13" />
<line x1="703.5" y1="350" x2="703.5" y2="434.5" stroke-width="1.13" />
<line x1="940.5" y1="352" x2="940.5" y2="463" stroke-width="1.13" />
<line x1="52.5" y1="426.75" x2="174.25" y2="426.75" stroke-width="1.13" />
<polygon points="52.5,426.75 68.5,424.55 68.5,428.95" fill="#0a0a0a" stroke="none"/>
<polygon points="174.25,426.75 158.25,428.95 158.25,424.55" fill="#0a0a0a" stroke="none"/>
<line x1="174.25" y1="426.75" x2="582.75" y2="426.75" stroke-width="1.13" />
<polygon points="174.25,426.75 190.25,424.55 190.25,428.95" fill="#0a0a0a" stroke="none"/>
<polygon points="582.75,426.75 566.75,428.95 566.75,424.55" fill="#0a0a0a" stroke="none"/>
<line x1="582.75" y1="426.75" x2="703.5" y2="426.75" stroke-width="1.13" />
<polygon points="582.75,426.75 598.75,424.55 598.75,428.95" fill="#0a0a0a" stroke="none"/>
<polygon points="703.5,426.75 687.5,428.95 687.5,424.55" fill="#0a0a0a" stroke="none"/>
<line x1="703.5" y1="426.75" x2="940.5" y2="426.75" stroke-width="1.13" />
<polygon points="703.5,426.75 719.5,424.55 719.5,428.95" fill="#0a0a0a" stroke="none"/>
<polygon points="940.5,426.75 924.5,428.95 924.5,424.55" fill="#0a0a0a" stroke="none"/>
<line x1="52.5" y1="455" x2="940.5" y2="455" stroke-width="1.13" />
<polygon points="52.5,455 68.5,452.8 68.5,457.2" fill="#0a0a0a" stroke="none"/>
<polygon points="940.5,455 924.5,457.2 924.5,452.8" fill="#0a0a0a" stroke="none"/>
<text transform="translate(100.67,423.5) scale(0.56,1)" letter-spacing="2.23" font-size="20" class="dm">1370</text>
<text transform="translate(364.93,423.5) scale(0.56,1)" letter-spacing="2.23" font-size="20" class="dm">4600</text>
<text transform="translate(630.17,423.5) scale(0.56,1)" letter-spacing="2.23" font-size="20" class="dm">1370</text>
<text transform="translate(809.17,423.5) scale(0.56,1)" letter-spacing="2.23" font-size="20" class="dm">2660</text>
<text transform="translate(480,451.75) scale(0.56,1)" letter-spacing="2.23" font-size="20" class="dm">10000</text>
<line x1="316.2" y1="198" x2="413.3" y2="198" stroke-width="1.13" />
<polygon points="316.2,198 331.7,195.9 331.7,200.1" fill="#0a0a0a" stroke="none"/>
<polygon points="413.3,198 397.8,200.1 397.8,195.9" fill="#0a0a0a" stroke="none"/>
<line x1="417.2" y1="198" x2="505.4" y2="198" stroke-width="1.13" />
<polygon points="417.2,198 432.7,195.9 432.7,200.1" fill="#0a0a0a" stroke="none"/>
<polygon points="505.4,198 489.9,200.1 489.9,195.9" fill="#0a0a0a" stroke="none"/>
<line x1="806.1" y1="198" x2="914.5" y2="198" stroke-width="1.13" />
<polygon points="806.1,198 821.6,195.9 821.6,200.1" fill="#0a0a0a" stroke="none"/>
<polygon points="914.5,198 899,200.1 899,195.9" fill="#0a0a0a" stroke="none"/>
<text transform="translate(351.93,194.5) scale(0.56,1)" letter-spacing="2.23" font-size="20" class="dm">1100</text>
<text transform="translate(447.93,194.5) scale(0.56,1)" letter-spacing="2.23" font-size="20" class="dm">1000</text>
<text transform="translate(841.17,194.5) scale(0.56,1)" letter-spacing="2.23" font-size="20" class="dm">1220</text>
<line x1="760" y1="70.75" x2="986" y2="70.75" stroke-width="1.13" />
<line x1="711" y1="397.5" x2="986" y2="397.5" stroke-width="1.13" />
<line x1="978.1" y1="70.75" x2="978.1" y2="397.5" stroke-width="0.9" />
<polygon points="978.1,70.75 980.2,86.75 976,86.75" fill="#0a0a0a" stroke="none"/>
<polygon points="978.1,397.5 976,381.5 980.2,381.5" fill="#0a0a0a" stroke="none"/>
<text transform="translate(975.2,248.07) rotate(-90) scale(0.56,1)" letter-spacing="2.23" font-size="20" class="dm">3640</text>
<line x1="1058" y1="414.25" x2="1276.25" y2="414.25" stroke-width="1.13" />
<polygon points="1058,414.25 1074,412.05 1074,416.45" fill="#0a0a0a" stroke="none"/>
<polygon points="1276.25,414.25 1260.25,416.45 1260.25,412.05" fill="#0a0a0a" stroke="none"/>
<line x1="1054.25" y1="434.75" x2="1280" y2="434.75" stroke-width="1.13" />
<polygon points="1054.25,434.75 1070.25,432.55 1070.25,436.95" fill="#0a0a0a" stroke="none"/>
<polygon points="1280,434.75 1264,436.95 1264,432.55" fill="#0a0a0a" stroke="none"/>
<line x1="1058" y1="330" x2="1058" y2="422.25" stroke-width="1.13" />
<line x1="1276.25" y1="330" x2="1276.25" y2="422.25" stroke-width="1.13" />
<line x1="1054.25" y1="300" x2="1054.25" y2="442.5" stroke-width="1.13" />
<line x1="1280" y1="275" x2="1280" y2="442.5" stroke-width="1.13" />
<text transform="translate(1153.92,410.5) scale(0.56,1)" letter-spacing="2.23" font-size="20" class="dm">2460</text>
<text transform="translate(1153.92,431) scale(0.56,1)" letter-spacing="2.23" font-size="20" class="dm">2540</text>
<line x1="1110.6" y1="202.75" x2="1222.6" y2="202.75" stroke-width="1.13" />
<polygon points="1110.6,202.75 1126.1,200.65 1126.1,204.85" fill="#0a0a0a" stroke="none"/>
<polygon points="1222.6,202.75 1207.1,204.85 1207.1,200.65" fill="#0a0a0a" stroke="none"/>
<text transform="translate(1153.92,199.75) scale(0.56,1)" letter-spacing="2.23" font-size="20" class="dm">1260</text>
<line x1="1180.5" y1="113.3" x2="1180.5" y2="178.5" stroke-width="1.13" />
<polygon points="1180.5,159.5 1182.4,171.5 1178.6,171.5" fill="#0a0a0a" stroke="none"/>
<text transform="translate(1178.2,155.85) rotate(-90) scale(0.56,1)" letter-spacing="2.23" font-size="20" class="dm">200</text>
<text x="24.5" y="42" textLength="343.5" lengthAdjust="spacingAndGlyphs" font-size="13.6" class="lb">1.9m police light (with Full English Public Address System)</text>
<line x1="143.75" y1="51.25" x2="325" y2="51.25" stroke-width="1.13" />
<line x1="143.75" y1="51.25" x2="132" y2="88.5" stroke-width="1.13" />
<polygon points="132,88.5 133.87,74.93 138.25,76.32" fill="#0a0a0a" stroke="none"/>
<text x="216.25" y="87" textLength="105.75" lengthAdjust="spacingAndGlyphs" font-size="13.6" class="lb">Red strobe light*4</text>
<line x1="235" y1="91.25" x2="311.25" y2="91.25" stroke-width="1.13" />
<line x1="311.25" y1="91.25" x2="338" y2="124.5" stroke-width="1.13" />
<polygon points="338,124.5 327.75,115.42 331.33,112.54" fill="#0a0a0a" stroke="none"/>
<text x="381" y="84" textLength="73.75" lengthAdjust="spacingAndGlyphs" font-size="13.6" class="lb">Side lights*8</text>
<line x1="389" y1="91.5" x2="453.25" y2="91.5" stroke-width="1.13" />
<line x1="389" y1="91.5" x2="364.5" y2="124.5" stroke-width="1.13" />
<polygon points="364.5,124.5 370.7,112.29 374.39,115.03" fill="#0a0a0a" stroke="none"/>
<text x="495.25" y="87" textLength="115.75" lengthAdjust="spacingAndGlyphs" font-size="13.6" class="lb">Blue strobe lights*4</text>
<line x1="515.25" y1="91.5" x2="597" y2="91.5" stroke-width="1.13" />
<line x1="515.25" y1="91.5" x2="502.5" y2="124.5" stroke-width="1.13" />
<polygon points="502.5,124.5 505.22,111.08 509.51,112.74" fill="#0a0a0a" stroke="none"/>
<text x="570.25" y="45" textLength="113.75" lengthAdjust="spacingAndGlyphs" font-size="13.6" class="lb">PL8/48 fire monitor</text>
<line x1="570.25" y1="51.25" x2="687.75" y2="51.25" stroke-width="1.13" />
<line x1="687.75" y1="51.25" x2="699.5" y2="75" stroke-width="1.13" />
<polygon points="699.5,75 691.45,63.92 695.58,61.88" fill="#0a0a0a" stroke="none"/>
<text x="926.75" y="34.5" textLength="131.25" lengthAdjust="spacingAndGlyphs" font-size="13.6" class="lb">CB10/60-XZ fire pump</text>
<line x1="936" y1="40" x2="1052.25" y2="40" stroke-width="1.13" />
<line x1="936" y1="40" x2="863" y2="229" stroke-width="1.13" />
<polygon points="863,229 865.72,215.58 870.01,217.24" fill="#0a0a0a" stroke="none"/>
<text x="978.5" y="61.5" textLength="184.75" lengthAdjust="spacingAndGlyphs" font-size="13.6" class="lb">Red and blue mini strobe lights</text>
<text x="1040.5" y="78.25" textLength="66.5" lengthAdjust="spacingAndGlyphs" font-size="13.6" class="lb">(each 2pic)</text>
<line x1="1017.25" y1="85.5" x2="1125.75" y2="85.5" stroke-width="1.13" />
<line x1="1125.75" y1="85.5" x2="1133.5" y2="119.5" stroke-width="1.13" />
<polygon points="1133.5,119.5 1128.26,106.85 1132.74,105.83" fill="#0a0a0a" stroke="none"/>
<text x="1188.25" y="57.75" textLength="151.25" lengthAdjust="spacingAndGlyphs" font-size="13.6" class="lb">360° Folding Search Light</text>
<line x1="1182" y1="65.75" x2="1277" y2="65.75" stroke-width="1.13" />
<line x1="1182" y1="65.75" x2="1168" y2="89.5" stroke-width="1.13" />
<polygon points="1168,89.5 1172.87,76.7 1176.84,79.04" fill="#0a0a0a" stroke="none"/>
<text x="1312.5" y="112.75" textLength="50.75" lengthAdjust="spacingAndGlyphs" font-size="13.6" class="lb">Handrail</text>
<line x1="1309.5" y1="117" x2="1362.5" y2="117" stroke-width="1.13" />
<line x1="1309.5" y1="117" x2="1268" y2="99.5" stroke-width="1.13" />
<polygon points="1268,99.5 1281.33,102.63 1279.55,106.86" fill="#0a0a0a" stroke="none"/>
<text x="1299.5" y="157.5" textLength="106.25" lengthAdjust="spacingAndGlyphs" font-size="13.6" class="lb">Side marker lights</text>
<line x1="1300.75" y1="162.25" x2="1339.5" y2="162.25" stroke-width="1.13" />
<line x1="1300.75" y1="162.25" x2="1277" y2="149.5" stroke-width="1.13" />
<polygon points="1277,149.5 1289.98,153.86 1287.81,157.91" fill="#0a0a0a" stroke="none"/>
<text x="1297" y="261.5" textLength="113.75" lengthAdjust="spacingAndGlyphs" font-size="13.6" class="lb">5+2 Folding Ladder</text>
<line x1="1294.5" y1="267" x2="1341.5" y2="267" stroke-width="1.13" />
<line x1="1294.5" y1="267" x2="1261.5" y2="233.5" stroke-width="1.13" />
<polygon points="1261.5,233.5 1272.61,241.5 1269.34,244.73" fill="#0a0a0a" stroke="none"/>
<text x="1297" y="358.5" textLength="84.25" lengthAdjust="spacingAndGlyphs" font-size="13.6" class="lb">Rear tow hook</text>
<line x1="1294.5" y1="366.75" x2="1348.25" y2="366.75" stroke-width="1.13" />
<line x1="1294.5" y1="366.75" x2="1165.5" y2="307.5" stroke-width="1.13" />
<polygon points="1165.5,307.5 1178.73,311.04 1176.81,315.22" fill="#0a0a0a" stroke="none"/>
<text x="349.5" y="387.5" textLength="114.5" lengthAdjust="spacingAndGlyphs" font-size="13.6" class="lb">Fuel tank side door</text>
<line x1="379" y1="375" x2="472" y2="375" stroke-width="1.13" />
<line x1="379" y1="375" x2="362" y2="312" stroke-width="1.13" />
<polygon points="362,312 367.74,324.43 363.3,325.63" fill="#0a0a0a" stroke="none"/>
<text x="477.75" y="386.75" textLength="58.25" lengthAdjust="spacingAndGlyphs" font-size="13.6" class="lb">Flip pedal</text>
<line x1="481.5" y1="375" x2="531.5" y2="375" stroke-width="1.13" />
<line x1="481.5" y1="375" x2="462" y2="341.5" stroke-width="1.13" />
<polygon points="462,341.5 470.78,352.01 466.8,354.32" fill="#0a0a0a" stroke="none"/>
<text x="842.5" y="376.25" textLength="58.5" lengthAdjust="spacingAndGlyphs" font-size="13.6" class="lb">Flip pedal</text>
<line x1="838" y1="380" x2="889.25" y2="380" stroke-width="1.13" />
<line x1="838" y1="380" x2="813" y2="332" stroke-width="1.13" />
<polygon points="813,332 821.28,342.91 817.2,345.04" fill="#0a0a0a" stroke="none"/>
</g>
<g opacity="0.41">
<text transform="translate(0,323.3) scale(0.8386,1)" x="673.12 723.44 750.03 786.99" y="0" font-size="87.4" class="wm">Fire</text>
<text transform="translate(706.6,313.5) scale(1.34,0.65)" x="0" y="0" font-size="90" class="wm" stroke="none" style="stroke:none">-</text>
<text transform="translate(0,323.3) scale(0.8386,1)" x="896.57 931.27 967.88 1017.37 1070.2 1123.25 1170.35 1195.99 1247.86 1299.97" y="0" font-size="87.4" class="wm">trucks.com</text>
<rect x="566" y="329.5" width="585" height="6.1" fill="#e8323f" stroke="none"/>
</g>
</svg>
</body>
</html>
